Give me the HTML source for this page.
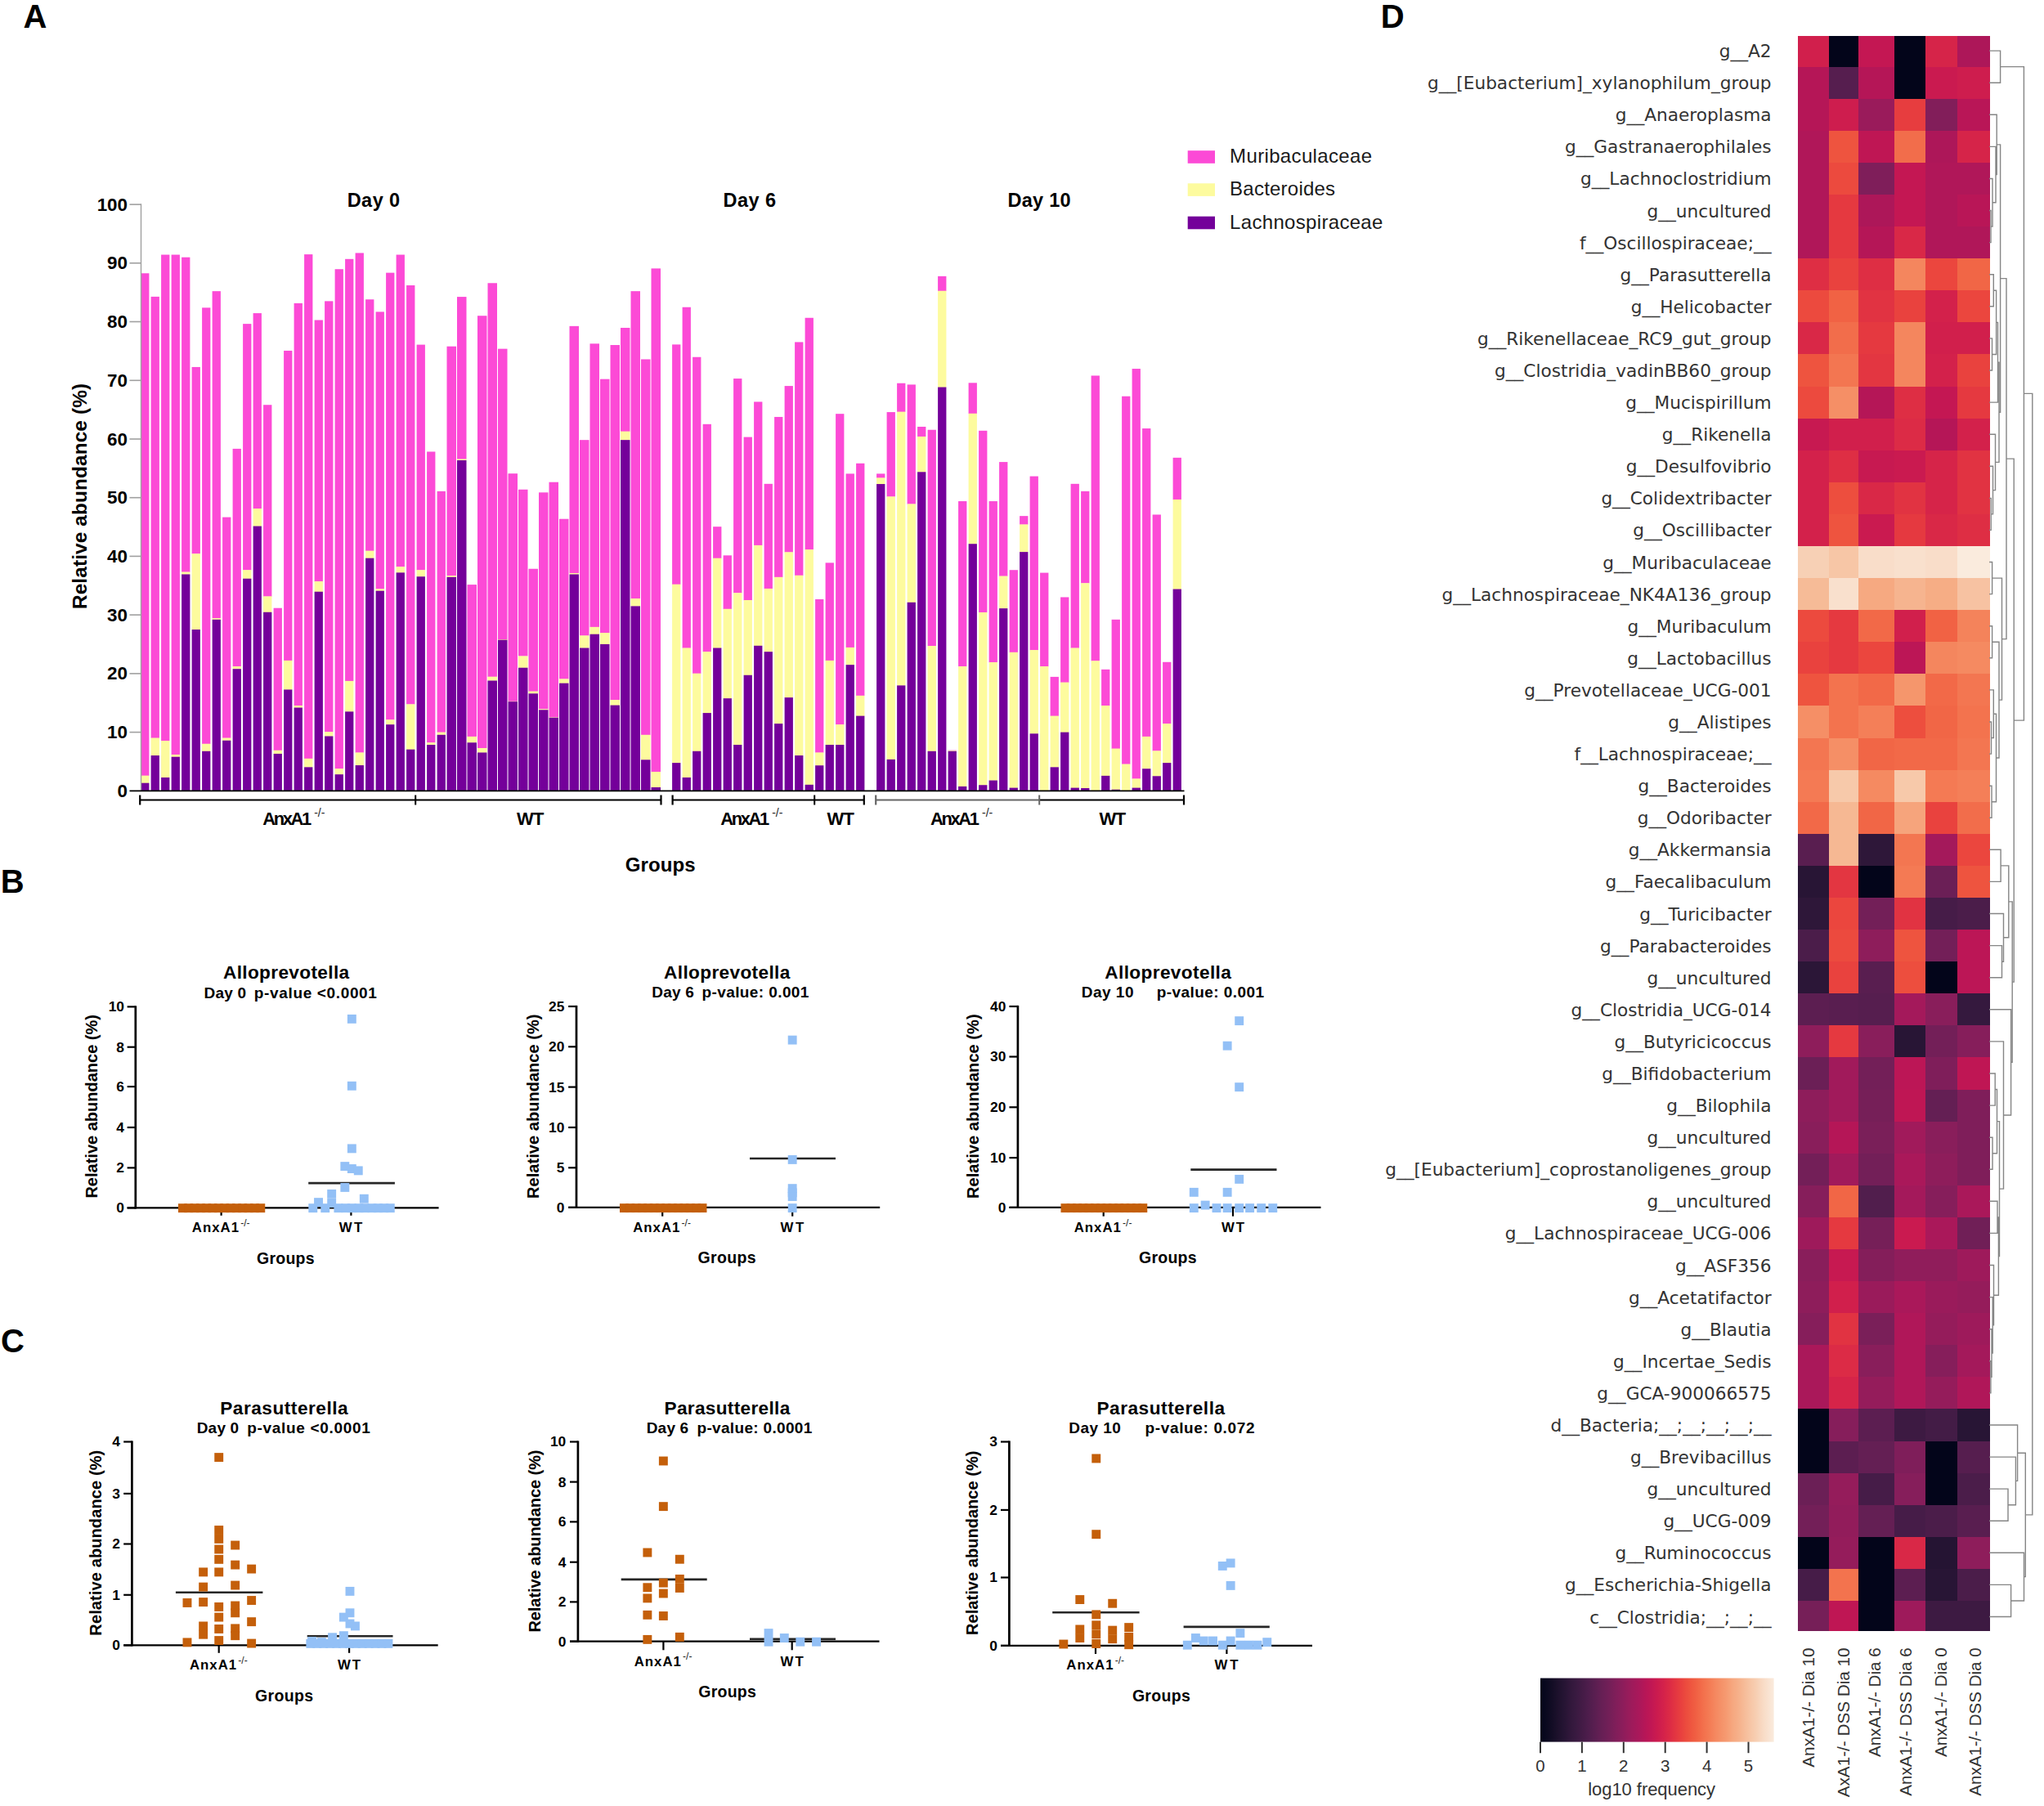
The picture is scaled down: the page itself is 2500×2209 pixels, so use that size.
<!DOCTYPE html>
<html lang="en"><head><meta charset="utf-8"><title>Figure</title>
<style>
html,body{margin:0;padding:0;background:#fff;}
svg{display:block;font-family:'Liberation Sans', Arial, Helvetica, sans-serif;}
</style></head><body>
<svg width="2500" height="2209" viewBox="0 0 2500 2209">
<rect width="2500" height="2209" fill="#fff"/>
<text x="28.4" y="34.2" font-size="40" font-weight="bold">A</text>
<text x="0.8" y="1092.2" font-size="40" font-weight="bold">B</text>
<text x="1.0" y="1654.3" font-size="40" font-weight="bold">C</text>
<text x="1688.8" y="34.1" font-size="40" font-weight="bold">D</text>
<g shape-rendering="auto">
<rect x="172.30" y="334.27" width="10.10" height="614.69" fill="#fc4ad6"/>
<rect x="172.30" y="948.66" width="10.10" height="9.35" fill="#fdfb9e"/>
<rect x="172.30" y="957.71" width="10.10" height="9.59" fill="#74009a"/>
<rect x="184.60" y="362.88" width="10.30" height="539.99" fill="#fc4ad6"/>
<rect x="184.60" y="902.58" width="10.30" height="21.76" fill="#fdfb9e"/>
<rect x="184.60" y="924.04" width="10.30" height="43.26" fill="#74009a"/>
<rect x="197.10" y="311.54" width="10.30" height="594.91" fill="#fc4ad6"/>
<rect x="197.10" y="906.15" width="10.30" height="45.12" fill="#fdfb9e"/>
<rect x="197.10" y="950.97" width="10.30" height="16.33" fill="#74009a"/>
<rect x="209.60" y="311.54" width="10.30" height="611.75" fill="#fc4ad6"/>
<rect x="209.60" y="922.99" width="10.30" height="3.04" fill="#fdfb9e"/>
<rect x="209.60" y="925.72" width="10.30" height="41.58" fill="#74009a"/>
<rect x="222.10" y="314.70" width="10.30" height="385.13" fill="#fc4ad6"/>
<rect x="222.10" y="699.53" width="10.30" height="3.25" fill="#fdfb9e"/>
<rect x="222.10" y="702.47" width="10.30" height="264.83" fill="#74009a"/>
<rect x="234.60" y="448.94" width="10.30" height="228.58" fill="#fc4ad6"/>
<rect x="234.60" y="677.22" width="10.30" height="93.09" fill="#fdfb9e"/>
<rect x="234.60" y="770.02" width="10.30" height="197.28" fill="#74009a"/>
<rect x="247.10" y="376.35" width="10.30" height="533.68" fill="#fc4ad6"/>
<rect x="247.10" y="909.73" width="10.30" height="9.35" fill="#fdfb9e"/>
<rect x="247.10" y="918.78" width="10.30" height="48.52" fill="#74009a"/>
<rect x="259.60" y="356.15" width="10.30" height="400.28" fill="#fc4ad6"/>
<rect x="259.60" y="756.13" width="10.30" height="1.98" fill="#fdfb9e"/>
<rect x="259.60" y="757.81" width="10.30" height="209.49" fill="#74009a"/>
<rect x="272.10" y="632.61" width="10.30" height="270.26" fill="#fc4ad6"/>
<rect x="272.10" y="902.58" width="10.30" height="3.46" fill="#fdfb9e"/>
<rect x="272.10" y="905.73" width="10.30" height="61.57" fill="#74009a"/>
<rect x="284.60" y="548.89" width="10.30" height="266.45" fill="#fc4ad6"/>
<rect x="284.60" y="815.04" width="10.30" height="3.46" fill="#fdfb9e"/>
<rect x="284.60" y="818.20" width="10.30" height="149.10" fill="#74009a"/>
<rect x="297.10" y="396.13" width="10.30" height="301.38" fill="#fc4ad6"/>
<rect x="297.10" y="697.21" width="10.30" height="10.82" fill="#fdfb9e"/>
<rect x="297.10" y="707.73" width="10.30" height="259.57" fill="#74009a"/>
<rect x="309.60" y="383.08" width="10.30" height="239.31" fill="#fc4ad6"/>
<rect x="309.60" y="622.09" width="10.30" height="21.76" fill="#fdfb9e"/>
<rect x="309.60" y="643.56" width="10.30" height="323.74" fill="#74009a"/>
<rect x="322.10" y="495.23" width="10.30" height="234.47" fill="#fc4ad6"/>
<rect x="322.10" y="729.41" width="10.30" height="19.66" fill="#fdfb9e"/>
<rect x="322.10" y="748.76" width="10.30" height="218.54" fill="#74009a"/>
<rect x="334.60" y="743.71" width="10.30" height="174.31" fill="#fc4ad6"/>
<rect x="334.60" y="917.73" width="10.30" height="4.51" fill="#fdfb9e"/>
<rect x="334.60" y="921.94" width="10.30" height="45.36" fill="#74009a"/>
<rect x="347.10" y="428.95" width="10.30" height="379.24" fill="#fc4ad6"/>
<rect x="347.10" y="807.89" width="10.30" height="35.86" fill="#fdfb9e"/>
<rect x="347.10" y="843.45" width="10.30" height="123.85" fill="#74009a"/>
<rect x="359.60" y="370.88" width="10.30" height="492.44" fill="#fc4ad6"/>
<rect x="359.60" y="863.02" width="10.30" height="2.82" fill="#fdfb9e"/>
<rect x="359.60" y="865.54" width="10.30" height="101.76" fill="#74009a"/>
<rect x="372.10" y="311.12" width="10.30" height="617.01" fill="#fc4ad6"/>
<rect x="372.10" y="927.83" width="10.30" height="10.82" fill="#fdfb9e"/>
<rect x="372.10" y="938.35" width="10.30" height="28.95" fill="#74009a"/>
<rect x="384.60" y="391.50" width="10.30" height="319.90" fill="#fc4ad6"/>
<rect x="384.60" y="711.10" width="10.30" height="12.92" fill="#fdfb9e"/>
<rect x="384.60" y="723.72" width="10.30" height="243.58" fill="#74009a"/>
<rect x="397.10" y="368.35" width="10.30" height="527.16" fill="#fc4ad6"/>
<rect x="397.10" y="895.21" width="10.30" height="5.56" fill="#fdfb9e"/>
<rect x="397.10" y="900.47" width="10.30" height="66.83" fill="#74009a"/>
<rect x="409.60" y="329.22" width="10.30" height="611.33" fill="#fc4ad6"/>
<rect x="409.60" y="940.24" width="10.30" height="7.24" fill="#fdfb9e"/>
<rect x="409.60" y="947.19" width="10.30" height="20.11" fill="#74009a"/>
<rect x="422.10" y="316.80" width="10.30" height="516.43" fill="#fc4ad6"/>
<rect x="422.10" y="832.93" width="10.30" height="37.75" fill="#fdfb9e"/>
<rect x="422.10" y="870.38" width="10.30" height="96.92" fill="#74009a"/>
<rect x="434.60" y="309.44" width="10.30" height="611.33" fill="#fc4ad6"/>
<rect x="434.60" y="920.46" width="10.30" height="15.87" fill="#fdfb9e"/>
<rect x="434.60" y="936.03" width="10.30" height="31.27" fill="#74009a"/>
<rect x="447.10" y="366.25" width="10.30" height="307.70" fill="#fc4ad6"/>
<rect x="447.10" y="673.65" width="10.30" height="9.35" fill="#fdfb9e"/>
<rect x="447.10" y="682.69" width="10.30" height="284.61" fill="#74009a"/>
<rect x="459.60" y="381.40" width="10.30" height="339.26" fill="#fc4ad6"/>
<rect x="459.60" y="720.36" width="10.30" height="2.61" fill="#fdfb9e"/>
<rect x="459.60" y="722.67" width="10.30" height="244.63" fill="#74009a"/>
<rect x="472.10" y="333.63" width="10.30" height="546.94" fill="#fc4ad6"/>
<rect x="472.10" y="880.27" width="10.30" height="6.19" fill="#fdfb9e"/>
<rect x="472.10" y="886.17" width="10.30" height="81.13" fill="#74009a"/>
<rect x="484.60" y="311.54" width="10.30" height="381.97" fill="#fc4ad6"/>
<rect x="484.60" y="693.21" width="10.30" height="7.45" fill="#fdfb9e"/>
<rect x="484.60" y="700.37" width="10.30" height="266.93" fill="#74009a"/>
<rect x="497.10" y="349.00" width="10.30" height="512.64" fill="#fc4ad6"/>
<rect x="497.10" y="861.34" width="10.30" height="55.64" fill="#fdfb9e"/>
<rect x="497.10" y="916.68" width="10.30" height="50.62" fill="#74009a"/>
<rect x="509.60" y="421.59" width="10.30" height="275.92" fill="#fc4ad6"/>
<rect x="509.60" y="697.21" width="10.30" height="8.30" fill="#fdfb9e"/>
<rect x="509.60" y="705.21" width="10.30" height="262.09" fill="#74009a"/>
<rect x="522.10" y="552.47" width="10.30" height="356.09" fill="#fc4ad6"/>
<rect x="522.10" y="908.26" width="10.30" height="3.04" fill="#fdfb9e"/>
<rect x="522.10" y="910.99" width="10.30" height="56.31" fill="#74009a"/>
<rect x="534.60" y="600.86" width="10.30" height="295.07" fill="#fc4ad6"/>
<rect x="534.60" y="895.63" width="10.30" height="3.46" fill="#fdfb9e"/>
<rect x="534.60" y="898.79" width="10.30" height="68.51" fill="#74009a"/>
<rect x="546.50" y="423.69" width="11.50" height="280.76" fill="#fc4ad6"/>
<rect x="546.50" y="704.16" width="11.50" height="1.98" fill="#fdfb9e"/>
<rect x="546.50" y="705.84" width="11.50" height="261.46" fill="#74009a"/>
<rect x="559.00" y="363.09" width="11.50" height="198.72" fill="#fc4ad6"/>
<rect x="559.00" y="561.51" width="11.50" height="1.77" fill="#fdfb9e"/>
<rect x="559.00" y="562.99" width="11.50" height="404.31" fill="#74009a"/>
<rect x="571.50" y="715.10" width="11.50" height="186.10" fill="#fc4ad6"/>
<rect x="571.50" y="900.89" width="11.50" height="7.66" fill="#fdfb9e"/>
<rect x="571.50" y="908.26" width="11.50" height="59.04" fill="#74009a"/>
<rect x="584.00" y="386.24" width="11.50" height="529.05" fill="#fc4ad6"/>
<rect x="584.00" y="914.99" width="11.50" height="5.77" fill="#fdfb9e"/>
<rect x="584.00" y="920.46" width="11.50" height="46.84" fill="#74009a"/>
<rect x="596.50" y="346.26" width="11.50" height="481.71" fill="#fc4ad6"/>
<rect x="596.50" y="827.67" width="11.50" height="5.14" fill="#fdfb9e"/>
<rect x="596.50" y="832.51" width="11.50" height="134.79" fill="#74009a"/>
<rect x="609.00" y="426.64" width="11.50" height="355.67" fill="#fc4ad6"/>
<rect x="609.00" y="782.01" width="11.50" height="0.93" fill="#fdfb9e"/>
<rect x="609.00" y="782.64" width="11.50" height="184.66" fill="#74009a"/>
<rect x="621.50" y="579.19" width="11.50" height="278.87" fill="#fc4ad6"/>
<rect x="621.50" y="857.76" width="11.50" height="0.72" fill="#fdfb9e"/>
<rect x="621.50" y="858.18" width="11.50" height="109.12" fill="#74009a"/>
<rect x="634.00" y="598.76" width="11.50" height="203.96" fill="#fc4ad6"/>
<rect x="634.00" y="802.42" width="11.50" height="14.61" fill="#fdfb9e"/>
<rect x="634.00" y="816.73" width="11.50" height="150.57" fill="#74009a"/>
<rect x="646.50" y="695.74" width="11.50" height="150.12" fill="#fc4ad6"/>
<rect x="646.50" y="845.55" width="11.50" height="3.04" fill="#fdfb9e"/>
<rect x="646.50" y="848.29" width="11.50" height="119.01" fill="#74009a"/>
<rect x="659.00" y="602.34" width="11.50" height="265.19" fill="#fc4ad6"/>
<rect x="659.00" y="867.23" width="11.50" height="1.35" fill="#fdfb9e"/>
<rect x="659.00" y="868.28" width="11.50" height="99.02" fill="#74009a"/>
<rect x="671.50" y="589.71" width="11.50" height="287.92" fill="#fc4ad6"/>
<rect x="671.50" y="877.33" width="11.50" height="0.72" fill="#fdfb9e"/>
<rect x="671.50" y="877.75" width="11.50" height="89.55" fill="#74009a"/>
<rect x="684.00" y="634.72" width="11.50" height="195.99" fill="#fc4ad6"/>
<rect x="684.00" y="830.41" width="11.50" height="5.56" fill="#fdfb9e"/>
<rect x="684.00" y="835.67" width="11.50" height="131.63" fill="#74009a"/>
<rect x="696.50" y="398.86" width="11.50" height="302.44" fill="#fc4ad6"/>
<rect x="696.50" y="701.00" width="11.50" height="1.77" fill="#fdfb9e"/>
<rect x="696.50" y="702.47" width="11.50" height="264.83" fill="#74009a"/>
<rect x="709.00" y="538.16" width="11.50" height="239.52" fill="#fc4ad6"/>
<rect x="709.00" y="777.38" width="11.50" height="15.45" fill="#fdfb9e"/>
<rect x="709.00" y="792.53" width="11.50" height="174.77" fill="#74009a"/>
<rect x="721.50" y="420.33" width="11.50" height="346.83" fill="#fc4ad6"/>
<rect x="721.50" y="766.86" width="11.50" height="9.14" fill="#fdfb9e"/>
<rect x="721.50" y="775.70" width="11.50" height="191.60" fill="#74009a"/>
<rect x="734.00" y="463.67" width="11.50" height="310.64" fill="#fc4ad6"/>
<rect x="734.00" y="774.01" width="11.50" height="14.19" fill="#fdfb9e"/>
<rect x="734.00" y="787.90" width="11.50" height="179.40" fill="#74009a"/>
<rect x="746.50" y="422.01" width="11.50" height="434.37" fill="#fc4ad6"/>
<rect x="746.50" y="856.08" width="11.50" height="6.82" fill="#fdfb9e"/>
<rect x="746.50" y="862.60" width="11.50" height="104.70" fill="#74009a"/>
<rect x="759.00" y="400.97" width="11.50" height="126.97" fill="#fc4ad6"/>
<rect x="759.00" y="527.64" width="11.50" height="10.82" fill="#fdfb9e"/>
<rect x="759.00" y="538.16" width="11.50" height="429.14" fill="#74009a"/>
<rect x="771.50" y="356.15" width="11.50" height="376.29" fill="#fc4ad6"/>
<rect x="771.50" y="732.14" width="11.50" height="9.56" fill="#fdfb9e"/>
<rect x="771.50" y="741.40" width="11.50" height="225.90" fill="#74009a"/>
<rect x="784.00" y="439.47" width="11.50" height="459.62" fill="#fc4ad6"/>
<rect x="784.00" y="898.79" width="11.50" height="30.81" fill="#fdfb9e"/>
<rect x="784.00" y="929.30" width="11.50" height="38.00" fill="#74009a"/>
<rect x="796.50" y="328.37" width="11.50" height="615.95" fill="#fc4ad6"/>
<rect x="796.50" y="944.03" width="11.50" height="19.24" fill="#fdfb9e"/>
<rect x="796.50" y="962.97" width="11.50" height="4.33" fill="#74009a"/>
<rect x="822.10" y="421.38" width="10.30" height="293.60" fill="#fc4ad6"/>
<rect x="822.10" y="714.68" width="10.30" height="218.71" fill="#fdfb9e"/>
<rect x="822.10" y="933.09" width="10.30" height="34.21" fill="#74009a"/>
<rect x="834.60" y="375.72" width="10.30" height="417.11" fill="#fc4ad6"/>
<rect x="834.60" y="792.53" width="10.30" height="158.74" fill="#fdfb9e"/>
<rect x="834.60" y="950.97" width="10.30" height="16.33" fill="#74009a"/>
<rect x="847.10" y="436.74" width="10.30" height="387.23" fill="#fc4ad6"/>
<rect x="847.10" y="823.67" width="10.30" height="95.41" fill="#fdfb9e"/>
<rect x="847.10" y="918.78" width="10.30" height="48.52" fill="#74009a"/>
<rect x="859.60" y="518.80" width="10.30" height="278.66" fill="#fc4ad6"/>
<rect x="859.60" y="797.16" width="10.30" height="75.21" fill="#fdfb9e"/>
<rect x="859.60" y="872.07" width="10.30" height="95.23" fill="#74009a"/>
<rect x="872.10" y="644.19" width="10.30" height="38.81" fill="#fc4ad6"/>
<rect x="872.10" y="682.69" width="10.30" height="110.14" fill="#fdfb9e"/>
<rect x="872.10" y="792.53" width="10.30" height="174.77" fill="#74009a"/>
<rect x="884.60" y="679.33" width="10.30" height="65.74" fill="#fc4ad6"/>
<rect x="884.60" y="744.77" width="10.30" height="109.72" fill="#fdfb9e"/>
<rect x="884.60" y="854.18" width="10.30" height="113.12" fill="#74009a"/>
<rect x="897.10" y="463.04" width="10.30" height="262.46" fill="#fc4ad6"/>
<rect x="897.10" y="725.20" width="10.30" height="186.10" fill="#fdfb9e"/>
<rect x="897.10" y="910.99" width="10.30" height="56.31" fill="#74009a"/>
<rect x="909.60" y="534.58" width="10.30" height="199.75" fill="#fc4ad6"/>
<rect x="909.60" y="734.03" width="10.30" height="92.04" fill="#fdfb9e"/>
<rect x="909.60" y="825.78" width="10.30" height="141.52" fill="#74009a"/>
<rect x="922.10" y="491.45" width="10.30" height="175.77" fill="#fc4ad6"/>
<rect x="922.10" y="666.91" width="10.30" height="123.18" fill="#fdfb9e"/>
<rect x="922.10" y="789.79" width="10.30" height="177.51" fill="#74009a"/>
<rect x="934.60" y="591.81" width="10.30" height="128.42" fill="#fc4ad6"/>
<rect x="934.60" y="719.94" width="10.30" height="77.52" fill="#fdfb9e"/>
<rect x="934.60" y="797.16" width="10.30" height="170.14" fill="#74009a"/>
<rect x="947.10" y="509.96" width="10.30" height="196.18" fill="#fc4ad6"/>
<rect x="947.10" y="705.84" width="10.30" height="179.57" fill="#fdfb9e"/>
<rect x="947.10" y="885.11" width="10.30" height="82.19" fill="#74009a"/>
<rect x="959.60" y="472.09" width="10.30" height="203.54" fill="#fc4ad6"/>
<rect x="959.60" y="675.33" width="10.30" height="178.10" fill="#fdfb9e"/>
<rect x="959.60" y="853.13" width="10.30" height="114.17" fill="#74009a"/>
<rect x="972.10" y="418.43" width="10.30" height="285.60" fill="#fc4ad6"/>
<rect x="972.10" y="703.73" width="10.30" height="220.61" fill="#fdfb9e"/>
<rect x="972.10" y="924.04" width="10.30" height="43.26" fill="#74009a"/>
<rect x="984.60" y="388.76" width="10.30" height="283.71" fill="#fc4ad6"/>
<rect x="984.60" y="672.17" width="10.30" height="287.94" fill="#fdfb9e"/>
<rect x="984.60" y="959.81" width="10.30" height="7.49" fill="#74009a"/>
<rect x="997.10" y="732.98" width="10.30" height="187.78" fill="#fc4ad6"/>
<rect x="997.10" y="920.46" width="10.30" height="16.08" fill="#fdfb9e"/>
<rect x="997.10" y="936.24" width="10.30" height="31.06" fill="#74009a"/>
<rect x="1009.60" y="688.37" width="10.30" height="119.82" fill="#fc4ad6"/>
<rect x="1009.60" y="807.89" width="10.30" height="103.40" fill="#fdfb9e"/>
<rect x="1009.60" y="910.99" width="10.30" height="56.31" fill="#74009a"/>
<rect x="1022.10" y="506.18" width="10.30" height="380.29" fill="#fc4ad6"/>
<rect x="1022.10" y="886.17" width="10.30" height="25.13" fill="#fdfb9e"/>
<rect x="1022.10" y="910.99" width="10.30" height="56.31" fill="#74009a"/>
<rect x="1034.60" y="579.40" width="10.30" height="212.80" fill="#fc4ad6"/>
<rect x="1034.60" y="791.90" width="10.30" height="21.55" fill="#fdfb9e"/>
<rect x="1034.60" y="813.15" width="10.30" height="154.15" fill="#74009a"/>
<rect x="1047.10" y="566.78" width="10.30" height="284.34" fill="#fc4ad6"/>
<rect x="1047.10" y="850.82" width="10.30" height="25.13" fill="#fdfb9e"/>
<rect x="1047.10" y="875.64" width="10.30" height="91.66" fill="#74009a"/>
<rect x="1072.10" y="579.40" width="10.30" height="5.35" fill="#fc4ad6"/>
<rect x="1072.10" y="584.45" width="10.30" height="7.87" fill="#fdfb9e"/>
<rect x="1072.10" y="592.03" width="10.30" height="375.27" fill="#74009a"/>
<rect x="1084.60" y="504.07" width="10.30" height="103.59" fill="#fc4ad6"/>
<rect x="1084.60" y="607.36" width="10.30" height="321.81" fill="#fdfb9e"/>
<rect x="1084.60" y="928.88" width="10.30" height="38.42" fill="#74009a"/>
<rect x="1097.10" y="468.72" width="10.30" height="35.23" fill="#fc4ad6"/>
<rect x="1097.10" y="503.65" width="10.30" height="335.05" fill="#fdfb9e"/>
<rect x="1097.10" y="838.40" width="10.30" height="128.90" fill="#74009a"/>
<rect x="1109.60" y="470.41" width="10.30" height="146.31" fill="#fc4ad6"/>
<rect x="1109.60" y="616.41" width="10.30" height="120.66" fill="#fdfb9e"/>
<rect x="1109.60" y="736.77" width="10.30" height="230.53" fill="#74009a"/>
<rect x="1122.10" y="521.96" width="10.30" height="12.29" fill="#fc4ad6"/>
<rect x="1122.10" y="533.95" width="10.30" height="43.65" fill="#fdfb9e"/>
<rect x="1122.10" y="577.30" width="10.30" height="390.00" fill="#74009a"/>
<rect x="1134.60" y="525.74" width="10.30" height="264.56" fill="#fc4ad6"/>
<rect x="1134.60" y="790.01" width="10.30" height="129.07" fill="#fdfb9e"/>
<rect x="1134.60" y="918.78" width="10.30" height="48.52" fill="#74009a"/>
<rect x="1147.10" y="337.84" width="10.30" height="18.19" fill="#fc4ad6"/>
<rect x="1147.10" y="355.73" width="10.30" height="118.13" fill="#fdfb9e"/>
<rect x="1147.10" y="473.56" width="10.30" height="493.74" fill="#74009a"/>
<rect x="1159.60" y="917.73" width="10.30" height="0.72" fill="#fc4ad6"/>
<rect x="1159.60" y="918.15" width="10.30" height="0.93" fill="#fdfb9e"/>
<rect x="1159.60" y="918.78" width="10.30" height="48.52" fill="#74009a"/>
<rect x="1172.10" y="613.05" width="10.30" height="202.30" fill="#fc4ad6"/>
<rect x="1172.10" y="815.04" width="10.30" height="147.17" fill="#fdfb9e"/>
<rect x="1172.10" y="961.91" width="10.30" height="5.39" fill="#74009a"/>
<rect x="1184.60" y="468.30" width="10.30" height="37.75" fill="#fc4ad6"/>
<rect x="1184.60" y="505.75" width="10.30" height="159.77" fill="#fdfb9e"/>
<rect x="1184.60" y="665.23" width="10.30" height="302.07" fill="#74009a"/>
<rect x="1197.10" y="526.80" width="10.30" height="222.48" fill="#fc4ad6"/>
<rect x="1197.10" y="748.97" width="10.30" height="211.56" fill="#fdfb9e"/>
<rect x="1197.10" y="960.23" width="10.30" height="7.07" fill="#74009a"/>
<rect x="1209.60" y="613.05" width="10.30" height="197.25" fill="#fc4ad6"/>
<rect x="1209.60" y="809.99" width="10.30" height="144.86" fill="#fdfb9e"/>
<rect x="1209.60" y="954.55" width="10.30" height="12.75" fill="#74009a"/>
<rect x="1222.10" y="565.09" width="10.30" height="139.78" fill="#fc4ad6"/>
<rect x="1222.10" y="704.58" width="10.30" height="39.86" fill="#fdfb9e"/>
<rect x="1222.10" y="744.13" width="10.30" height="223.17" fill="#74009a"/>
<rect x="1234.60" y="697.21" width="10.30" height="100.88" fill="#fc4ad6"/>
<rect x="1234.60" y="797.79" width="10.30" height="166.11" fill="#fdfb9e"/>
<rect x="1234.60" y="963.60" width="10.30" height="3.70" fill="#74009a"/>
<rect x="1247.10" y="631.14" width="10.30" height="10.61" fill="#fc4ad6"/>
<rect x="1247.10" y="641.45" width="10.30" height="33.97" fill="#fdfb9e"/>
<rect x="1247.10" y="675.12" width="10.30" height="292.18" fill="#74009a"/>
<rect x="1259.60" y="582.56" width="10.30" height="212.80" fill="#fc4ad6"/>
<rect x="1259.60" y="795.06" width="10.30" height="102.56" fill="#fdfb9e"/>
<rect x="1259.60" y="897.32" width="10.30" height="69.98" fill="#74009a"/>
<rect x="1272.10" y="700.58" width="10.30" height="114.77" fill="#fc4ad6"/>
<rect x="1272.10" y="815.04" width="10.30" height="152.43" fill="#fdfb9e"/>
<rect x="1284.60" y="827.88" width="10.30" height="48.06" fill="#fc4ad6"/>
<rect x="1284.60" y="875.64" width="10.30" height="63.00" fill="#fdfb9e"/>
<rect x="1284.60" y="938.35" width="10.30" height="28.95" fill="#74009a"/>
<rect x="1297.10" y="730.46" width="10.30" height="104.46" fill="#fc4ad6"/>
<rect x="1297.10" y="834.61" width="10.30" height="61.32" fill="#fdfb9e"/>
<rect x="1297.10" y="895.63" width="10.30" height="71.67" fill="#74009a"/>
<rect x="1309.60" y="591.81" width="10.30" height="201.02" fill="#fc4ad6"/>
<rect x="1309.60" y="792.53" width="10.30" height="171.37" fill="#fdfb9e"/>
<rect x="1309.60" y="963.60" width="10.30" height="3.70" fill="#74009a"/>
<rect x="1322.10" y="600.86" width="10.30" height="112.64" fill="#fc4ad6"/>
<rect x="1322.10" y="713.20" width="10.30" height="251.12" fill="#fdfb9e"/>
<rect x="1322.10" y="964.02" width="10.30" height="3.28" fill="#74009a"/>
<rect x="1334.60" y="459.46" width="10.30" height="349.15" fill="#fc4ad6"/>
<rect x="1334.60" y="808.31" width="10.30" height="159.16" fill="#fdfb9e"/>
<rect x="1347.10" y="818.83" width="10.30" height="44.49" fill="#fc4ad6"/>
<rect x="1347.10" y="863.02" width="10.30" height="86.15" fill="#fdfb9e"/>
<rect x="1347.10" y="948.87" width="10.30" height="18.43" fill="#74009a"/>
<rect x="1359.60" y="757.81" width="10.30" height="158.11" fill="#fc4ad6"/>
<rect x="1359.60" y="915.62" width="10.30" height="50.38" fill="#fdfb9e"/>
<rect x="1359.60" y="965.70" width="10.30" height="1.60" fill="#74009a"/>
<rect x="1372.10" y="484.71" width="10.30" height="450.15" fill="#fc4ad6"/>
<rect x="1372.10" y="934.56" width="10.30" height="32.91" fill="#fdfb9e"/>
<rect x="1384.60" y="451.05" width="10.30" height="501.70" fill="#fc4ad6"/>
<rect x="1384.60" y="952.45" width="10.30" height="11.45" fill="#fdfb9e"/>
<rect x="1384.60" y="963.60" width="10.30" height="3.70" fill="#74009a"/>
<rect x="1397.10" y="524.06" width="10.30" height="377.13" fill="#fc4ad6"/>
<rect x="1397.10" y="900.89" width="10.30" height="39.65" fill="#fdfb9e"/>
<rect x="1397.10" y="940.24" width="10.30" height="27.06" fill="#74009a"/>
<rect x="1409.60" y="629.46" width="10.30" height="289.20" fill="#fc4ad6"/>
<rect x="1409.60" y="918.36" width="10.30" height="31.23" fill="#fdfb9e"/>
<rect x="1409.60" y="949.29" width="10.30" height="18.01" fill="#74009a"/>
<rect x="1422.10" y="809.78" width="10.30" height="75.63" fill="#fc4ad6"/>
<rect x="1422.10" y="885.11" width="10.30" height="48.27" fill="#fdfb9e"/>
<rect x="1422.10" y="933.09" width="10.30" height="34.21" fill="#74009a"/>
<rect x="1434.60" y="559.83" width="10.30" height="51.41" fill="#fc4ad6"/>
<rect x="1434.60" y="610.94" width="10.30" height="109.93" fill="#fdfb9e"/>
<rect x="1434.60" y="720.57" width="10.30" height="246.73" fill="#74009a"/>
</g>
<line x1="172.5" y1="249.5" x2="172.5" y2="967.3" stroke="#a0a0a0" stroke-width="1.4"/>
<text x="156.0" y="974.8" font-size="22.4" font-weight="bold" text-anchor="end">0</text>
<line x1="158.5" y1="895.6" x2="173.0" y2="895.6" stroke="#a0a0a0" stroke-width="1.6"/>
<text x="156.0" y="903.1" font-size="22.4" font-weight="bold" text-anchor="end">10</text>
<line x1="158.5" y1="823.9" x2="173.0" y2="823.9" stroke="#a0a0a0" stroke-width="1.6"/>
<text x="156.0" y="831.4" font-size="22.4" font-weight="bold" text-anchor="end">20</text>
<line x1="158.5" y1="752.1" x2="173.0" y2="752.1" stroke="#a0a0a0" stroke-width="1.6"/>
<text x="156.0" y="759.6" font-size="22.4" font-weight="bold" text-anchor="end">30</text>
<line x1="158.5" y1="680.4" x2="173.0" y2="680.4" stroke="#a0a0a0" stroke-width="1.6"/>
<text x="156.0" y="687.9" font-size="22.4" font-weight="bold" text-anchor="end">40</text>
<line x1="158.5" y1="608.7" x2="173.0" y2="608.7" stroke="#a0a0a0" stroke-width="1.6"/>
<text x="156.0" y="616.2" font-size="22.4" font-weight="bold" text-anchor="end">50</text>
<line x1="158.5" y1="537.0" x2="173.0" y2="537.0" stroke="#a0a0a0" stroke-width="1.6"/>
<text x="156.0" y="544.5" font-size="22.4" font-weight="bold" text-anchor="end">60</text>
<line x1="158.5" y1="465.3" x2="173.0" y2="465.3" stroke="#a0a0a0" stroke-width="1.6"/>
<text x="156.0" y="472.8" font-size="22.4" font-weight="bold" text-anchor="end">70</text>
<line x1="158.5" y1="393.5" x2="173.0" y2="393.5" stroke="#a0a0a0" stroke-width="1.6"/>
<text x="156.0" y="401.0" font-size="22.4" font-weight="bold" text-anchor="end">80</text>
<line x1="158.5" y1="321.8" x2="173.0" y2="321.8" stroke="#a0a0a0" stroke-width="1.6"/>
<text x="156.0" y="329.3" font-size="22.4" font-weight="bold" text-anchor="end">90</text>
<line x1="158.5" y1="250.1" x2="173.0" y2="250.1" stroke="#a0a0a0" stroke-width="1.6"/>
<text x="156.0" y="257.6" font-size="22.4" font-weight="bold" text-anchor="end">100</text>
<line x1="158.5" y1="967.4" x2="1448.5" y2="967.4" stroke="#000" stroke-width="1.7"/>
<line x1="171.2" y1="978.4" x2="508.2" y2="978.4" stroke="#000" stroke-width="2"/>
<line x1="508.2" y1="978.4" x2="808.5" y2="978.4" stroke="#000" stroke-width="2"/>
<line x1="171.2" y1="972.5" x2="171.2" y2="984.5" stroke="#000" stroke-width="2.2"/>
<line x1="508.2" y1="972.5" x2="508.2" y2="984.5" stroke="#000" stroke-width="2"/>
<line x1="808.5" y1="972.5" x2="808.5" y2="984.5" stroke="#000" stroke-width="2.2"/>
<line x1="822.6" y1="978.4" x2="996.2" y2="978.4" stroke="#000" stroke-width="2"/>
<line x1="996.2" y1="978.4" x2="1056.8" y2="978.4" stroke="#000" stroke-width="2"/>
<line x1="822.6" y1="972.5" x2="822.6" y2="984.5" stroke="#000" stroke-width="2.2"/>
<line x1="996.2" y1="972.5" x2="996.2" y2="984.5" stroke="#000" stroke-width="2"/>
<line x1="1056.8" y1="972.5" x2="1056.8" y2="984.5" stroke="#000" stroke-width="2.2"/>
<line x1="1071.2" y1="978.4" x2="1271.2" y2="978.4" stroke="#666" stroke-width="2"/>
<line x1="1271.2" y1="978.4" x2="1448.0" y2="978.4" stroke="#000" stroke-width="2"/>
<line x1="1071.2" y1="972.5" x2="1071.2" y2="984.5" stroke="#666" stroke-width="2.2"/>
<line x1="1271.2" y1="972.5" x2="1271.2" y2="984.5" stroke="#666" stroke-width="2"/>
<line x1="1448.0" y1="972.5" x2="1448.0" y2="984.5" stroke="#000" stroke-width="2.2"/>
<text x="321.2" y="1008.5" font-size="21.9" font-weight="bold" textLength="60.0" lengthAdjust="spacing">AnxA1</text>
<text x="384.2" y="998.7" font-size="14" fill="#222">-/-</text>
<text x="632.0" y="1008.5" font-size="21.9" font-weight="bold" textLength="33.4" lengthAdjust="spacing">WT</text>
<text x="881.2" y="1008.5" font-size="21.9" font-weight="bold" textLength="60.0" lengthAdjust="spacing">AnxA1</text>
<text x="944.2" y="998.7" font-size="14" fill="#222">-/-</text>
<text x="1011.6" y="1008.5" font-size="21.9" font-weight="bold" textLength="33.3" lengthAdjust="spacing">WT</text>
<text x="1138.0" y="1008.5" font-size="21.9" font-weight="bold" textLength="60.0" lengthAdjust="spacing">AnxA1</text>
<text x="1201.0" y="998.7" font-size="14" fill="#222">-/-</text>
<text x="1344.5" y="1008.5" font-size="21.9" font-weight="bold" textLength="32.5" lengthAdjust="spacing">WT</text>
<text x="764.7" y="1065.7" font-size="24" font-weight="bold" textLength="86.0" lengthAdjust="spacing">Groups</text>
<text x="424.7" y="253.0" font-size="23.5" font-weight="bold" textLength="64.5" lengthAdjust="spacing">Day 0</text>
<text x="884.5" y="253.0" font-size="23.5" font-weight="bold" textLength="64.6" lengthAdjust="spacing">Day 6</text>
<text x="1232.5" y="252.7" font-size="23.5" font-weight="bold" textLength="77.1" lengthAdjust="spacing">Day 10</text>
<text x="105.5" y="607.0" font-size="24.3" font-weight="bold" text-anchor="middle" textLength="276.0" lengthAdjust="spacing" transform="rotate(-90 105.5 607.0)">Relative abundance (%)</text>
<rect x="1452.70" y="184.20" width="33.30" height="15.60" fill="#fc4ad6"/>
<text x="1504.1" y="199.3" font-size="24" textLength="174.0" lengthAdjust="spacing" fill="#1a1a1a">Muribaculaceae</text>
<rect x="1452.70" y="224.30" width="33.30" height="15.60" fill="#fdfb9e"/>
<text x="1504.1" y="239.3" font-size="24" textLength="129.0" lengthAdjust="spacing" fill="#1a1a1a">Bacteroides</text>
<rect x="1452.70" y="264.70" width="33.30" height="15.60" fill="#74009a"/>
<text x="1504.1" y="279.8" font-size="24" textLength="187.3" lengthAdjust="spacing" fill="#1a1a1a">Lachnospiraceae</text>
<line x1="165.8" y1="1230.3" x2="165.8" y2="1478.5" stroke="#000" stroke-width="2.7"/>
<line x1="155.6" y1="1477.4" x2="536.6" y2="1477.4" stroke="#000" stroke-width="2.2"/>
<line x1="155.6" y1="1231.4" x2="165.8" y2="1231.4" stroke="#000" stroke-width="2.2"/>
<text x="152.0" y="1237.3" font-size="17.4" font-weight="bold" text-anchor="end">10</text>
<line x1="155.6" y1="1280.7" x2="165.8" y2="1280.7" stroke="#000" stroke-width="2.2"/>
<text x="152.0" y="1286.6" font-size="17.4" font-weight="bold" text-anchor="end">8</text>
<line x1="155.6" y1="1329.1" x2="165.8" y2="1329.1" stroke="#000" stroke-width="2.2"/>
<text x="152.0" y="1335.0" font-size="17.4" font-weight="bold" text-anchor="end">6</text>
<line x1="155.6" y1="1379.0" x2="165.8" y2="1379.0" stroke="#000" stroke-width="2.2"/>
<text x="152.0" y="1384.9" font-size="17.4" font-weight="bold" text-anchor="end">4</text>
<line x1="155.6" y1="1428.4" x2="165.8" y2="1428.4" stroke="#000" stroke-width="2.2"/>
<text x="152.0" y="1434.3" font-size="17.4" font-weight="bold" text-anchor="end">2</text>
<line x1="155.6" y1="1477.4" x2="165.8" y2="1477.4" stroke="#000" stroke-width="2.2"/>
<text x="152.0" y="1483.3" font-size="17.4" font-weight="bold" text-anchor="end">0</text>
<line x1="270.6" y1="1477.4" x2="270.6" y2="1486.8" stroke="#000" stroke-width="2.2"/>
<line x1="429.4" y1="1477.4" x2="429.4" y2="1486.8" stroke="#000" stroke-width="2.2"/>
<line x1="377.2" y1="1447.1" x2="482.9" y2="1447.1" stroke="#262626" stroke-width="2.6"/>
<rect x="217.93" y="1472.22" width="10.90" height="10.90" fill="#c45f0a"/>
<rect x="225.27" y="1472.22" width="10.90" height="10.90" fill="#c45f0a"/>
<rect x="232.61" y="1472.22" width="10.90" height="10.90" fill="#c45f0a"/>
<rect x="239.95" y="1472.22" width="10.90" height="10.90" fill="#c45f0a"/>
<rect x="247.29" y="1472.22" width="10.90" height="10.90" fill="#c45f0a"/>
<rect x="254.63" y="1472.22" width="10.90" height="10.90" fill="#c45f0a"/>
<rect x="261.96" y="1472.22" width="10.90" height="10.90" fill="#c45f0a"/>
<rect x="269.30" y="1472.22" width="10.90" height="10.90" fill="#c45f0a"/>
<rect x="276.64" y="1472.22" width="10.90" height="10.90" fill="#c45f0a"/>
<rect x="283.98" y="1472.22" width="10.90" height="10.90" fill="#c45f0a"/>
<rect x="291.32" y="1472.22" width="10.90" height="10.90" fill="#c45f0a"/>
<rect x="298.66" y="1472.22" width="10.90" height="10.90" fill="#c45f0a"/>
<rect x="306.00" y="1472.22" width="10.90" height="10.90" fill="#c45f0a"/>
<rect x="313.33" y="1472.22" width="10.90" height="10.90" fill="#c45f0a"/>
<rect x="424.88" y="1240.91" width="10.90" height="10.90" fill="#93c0f6"/>
<rect x="424.88" y="1322.81" width="10.90" height="10.90" fill="#93c0f6"/>
<rect x="424.88" y="1399.42" width="10.90" height="10.90" fill="#93c0f6"/>
<rect x="416.37" y="1421.14" width="10.90" height="10.90" fill="#93c0f6"/>
<rect x="424.88" y="1424.08" width="10.90" height="10.90" fill="#93c0f6"/>
<rect x="432.80" y="1426.42" width="10.90" height="10.90" fill="#93c0f6"/>
<rect x="416.37" y="1446.97" width="10.90" height="10.90" fill="#93c0f6"/>
<rect x="400.22" y="1454.90" width="10.90" height="10.90" fill="#93c0f6"/>
<rect x="439.85" y="1460.77" width="10.90" height="10.90" fill="#93c0f6"/>
<rect x="384.08" y="1465.17" width="10.90" height="10.90" fill="#93c0f6"/>
<rect x="400.22" y="1466.05" width="10.90" height="10.90" fill="#93c0f6"/>
<rect x="377.33" y="1472.22" width="10.90" height="10.90" fill="#93c0f6"/>
<rect x="392.30" y="1472.22" width="10.90" height="10.90" fill="#93c0f6"/>
<rect x="408.44" y="1472.22" width="10.90" height="10.90" fill="#93c0f6"/>
<rect x="417.25" y="1472.22" width="10.90" height="10.90" fill="#93c0f6"/>
<rect x="424.88" y="1472.22" width="10.90" height="10.90" fill="#93c0f6"/>
<rect x="433.39" y="1472.22" width="10.90" height="10.90" fill="#93c0f6"/>
<rect x="440.73" y="1472.22" width="10.90" height="10.90" fill="#93c0f6"/>
<rect x="449.54" y="1472.22" width="10.90" height="10.90" fill="#93c0f6"/>
<rect x="456.87" y="1472.22" width="10.90" height="10.90" fill="#93c0f6"/>
<rect x="464.21" y="1472.22" width="10.90" height="10.90" fill="#93c0f6"/>
<rect x="471.84" y="1472.22" width="10.90" height="10.90" fill="#93c0f6"/>
<text x="273.0" y="1197.0" font-size="22.6" font-weight="bold" textLength="154.1" lengthAdjust="spacing">Alloprevotella</text>
<text x="249.5" y="1220.5" font-size="19" font-weight="bold" textLength="51.5" lengthAdjust="spacing">Day 0</text>
<text x="310.8" y="1220.5" font-size="19" font-weight="bold" textLength="150.1" lengthAdjust="spacing">p-value &lt;0.0001</text>
<text x="234.8" y="1506.7" font-size="16.8" font-weight="bold" textLength="57.2" lengthAdjust="spacing">AnxA1</text>
<text x="294.2" y="1499.5" font-size="12" fill="#222">-/-</text>
<text x="414.8" y="1506.7" font-size="16.8" font-weight="bold" textLength="28.4" lengthAdjust="spacing">WT</text>
<text x="314.1" y="1545.5" font-size="19.5" font-weight="bold" textLength="70.4" lengthAdjust="spacing">Groups</text>
<text x="119.5" y="1353.3" font-size="20" font-weight="bold" text-anchor="middle" textLength="224.6" lengthAdjust="spacing" transform="rotate(-90 119.5 1353.3)">Relative abundance (%)</text>
<line x1="705.0" y1="1229.9" x2="705.0" y2="1478.0" stroke="#000" stroke-width="2.7"/>
<line x1="695.1" y1="1476.9" x2="1076.2" y2="1476.9" stroke="#000" stroke-width="2.2"/>
<line x1="695.1" y1="1231.0" x2="705.0" y2="1231.0" stroke="#000" stroke-width="2.2"/>
<text x="690.4" y="1236.9" font-size="17.4" font-weight="bold" text-anchor="end">25</text>
<line x1="695.1" y1="1280.3" x2="705.0" y2="1280.3" stroke="#000" stroke-width="2.2"/>
<text x="690.4" y="1286.2" font-size="17.4" font-weight="bold" text-anchor="end">20</text>
<line x1="695.1" y1="1329.6" x2="705.0" y2="1329.6" stroke="#000" stroke-width="2.2"/>
<text x="690.4" y="1335.5" font-size="17.4" font-weight="bold" text-anchor="end">15</text>
<line x1="695.1" y1="1379.0" x2="705.0" y2="1379.0" stroke="#000" stroke-width="2.2"/>
<text x="690.4" y="1384.9" font-size="17.4" font-weight="bold" text-anchor="end">10</text>
<line x1="695.1" y1="1428.3" x2="705.0" y2="1428.3" stroke="#000" stroke-width="2.2"/>
<text x="690.4" y="1434.2" font-size="17.4" font-weight="bold" text-anchor="end">5</text>
<line x1="695.1" y1="1476.9" x2="705.0" y2="1476.9" stroke="#000" stroke-width="2.2"/>
<text x="690.4" y="1482.8" font-size="17.4" font-weight="bold" text-anchor="end">0</text>
<line x1="810.2" y1="1476.9" x2="810.2" y2="1487.7" stroke="#000" stroke-width="2.2"/>
<line x1="969.2" y1="1476.9" x2="969.2" y2="1487.7" stroke="#000" stroke-width="2.2"/>
<line x1="917.0" y1="1417.0" x2="1022.0" y2="1417.0" stroke="#262626" stroke-width="2.6"/>
<rect x="758.00" y="1472.15" width="10.90" height="10.90" fill="#c45f0a"/>
<rect x="765.35" y="1472.15" width="10.90" height="10.90" fill="#c45f0a"/>
<rect x="772.70" y="1472.15" width="10.90" height="10.90" fill="#c45f0a"/>
<rect x="780.05" y="1472.15" width="10.90" height="10.90" fill="#c45f0a"/>
<rect x="787.40" y="1472.15" width="10.90" height="10.90" fill="#c45f0a"/>
<rect x="794.76" y="1472.15" width="10.90" height="10.90" fill="#c45f0a"/>
<rect x="802.11" y="1472.15" width="10.90" height="10.90" fill="#c45f0a"/>
<rect x="809.46" y="1472.15" width="10.90" height="10.90" fill="#c45f0a"/>
<rect x="816.81" y="1472.15" width="10.90" height="10.90" fill="#c45f0a"/>
<rect x="824.16" y="1472.15" width="10.90" height="10.90" fill="#c45f0a"/>
<rect x="831.52" y="1472.15" width="10.90" height="10.90" fill="#c45f0a"/>
<rect x="838.87" y="1472.15" width="10.90" height="10.90" fill="#c45f0a"/>
<rect x="846.22" y="1472.15" width="10.90" height="10.90" fill="#c45f0a"/>
<rect x="853.57" y="1472.15" width="10.90" height="10.90" fill="#c45f0a"/>
<rect x="963.71" y="1266.66" width="10.90" height="10.90" fill="#93c0f6"/>
<rect x="963.71" y="1412.97" width="10.90" height="10.90" fill="#93c0f6"/>
<rect x="963.71" y="1448.19" width="10.90" height="10.90" fill="#93c0f6"/>
<rect x="963.71" y="1453.36" width="10.90" height="10.90" fill="#93c0f6"/>
<rect x="963.71" y="1458.06" width="10.90" height="10.90" fill="#93c0f6"/>
<rect x="963.71" y="1472.15" width="10.90" height="10.90" fill="#93c0f6"/>
<text x="812.1" y="1196.5" font-size="22.6" font-weight="bold" textLength="154.2" lengthAdjust="spacing">Alloprevotella</text>
<text x="797.3" y="1220.0" font-size="19" font-weight="bold" textLength="51.5" lengthAdjust="spacing">Day 6</text>
<text x="858.5" y="1220.0" font-size="19" font-weight="bold" textLength="130.9" lengthAdjust="spacing">p-value: 0.001</text>
<text x="774.2" y="1507.0" font-size="16.8" font-weight="bold" textLength="57.2" lengthAdjust="spacing">AnxA1</text>
<text x="833.6" y="1499.8" font-size="12" fill="#222">-/-</text>
<text x="954.6" y="1507.0" font-size="16.8" font-weight="bold" textLength="28.6" lengthAdjust="spacing">WT</text>
<text x="853.6" y="1544.5" font-size="19.5" font-weight="bold" textLength="70.9" lengthAdjust="spacing">Groups</text>
<text x="659.3" y="1353.2" font-size="20" font-weight="bold" text-anchor="middle" textLength="225.5" lengthAdjust="spacing" transform="rotate(-90 659.3 1353.2)">Relative abundance (%)</text>
<line x1="1244.9" y1="1229.9" x2="1244.9" y2="1478.0" stroke="#000" stroke-width="2.7"/>
<line x1="1234.4" y1="1476.9" x2="1615.5" y2="1476.9" stroke="#000" stroke-width="2.2"/>
<line x1="1234.4" y1="1231.0" x2="1244.9" y2="1231.0" stroke="#000" stroke-width="2.2"/>
<text x="1230.4" y="1236.9" font-size="17.4" font-weight="bold" text-anchor="end">40</text>
<line x1="1234.4" y1="1292.5" x2="1244.9" y2="1292.5" stroke="#000" stroke-width="2.2"/>
<text x="1230.4" y="1298.4" font-size="17.4" font-weight="bold" text-anchor="end">30</text>
<line x1="1234.4" y1="1354.3" x2="1244.9" y2="1354.3" stroke="#000" stroke-width="2.2"/>
<text x="1230.4" y="1360.2" font-size="17.4" font-weight="bold" text-anchor="end">20</text>
<line x1="1234.4" y1="1416.1" x2="1244.9" y2="1416.1" stroke="#000" stroke-width="2.2"/>
<text x="1230.4" y="1422.0" font-size="17.4" font-weight="bold" text-anchor="end">10</text>
<line x1="1234.4" y1="1476.9" x2="1244.9" y2="1476.9" stroke="#000" stroke-width="2.2"/>
<text x="1230.4" y="1482.8" font-size="17.4" font-weight="bold" text-anchor="end">0</text>
<line x1="1349.7" y1="1476.9" x2="1349.7" y2="1487.7" stroke="#000" stroke-width="2.2"/>
<line x1="1508.0" y1="1476.9" x2="1508.0" y2="1487.7" stroke="#000" stroke-width="2.2"/>
<line x1="1456.3" y1="1430.6" x2="1561.5" y2="1430.6" stroke="#262626" stroke-width="2.6"/>
<rect x="1297.49" y="1472.15" width="10.90" height="10.90" fill="#c45f0a"/>
<rect x="1304.78" y="1472.15" width="10.90" height="10.90" fill="#c45f0a"/>
<rect x="1312.08" y="1472.15" width="10.90" height="10.90" fill="#c45f0a"/>
<rect x="1319.38" y="1472.15" width="10.90" height="10.90" fill="#c45f0a"/>
<rect x="1326.68" y="1472.15" width="10.90" height="10.90" fill="#c45f0a"/>
<rect x="1333.98" y="1472.15" width="10.90" height="10.90" fill="#c45f0a"/>
<rect x="1341.27" y="1472.15" width="10.90" height="10.90" fill="#c45f0a"/>
<rect x="1348.57" y="1472.15" width="10.90" height="10.90" fill="#c45f0a"/>
<rect x="1355.87" y="1472.15" width="10.90" height="10.90" fill="#c45f0a"/>
<rect x="1363.17" y="1472.15" width="10.90" height="10.90" fill="#c45f0a"/>
<rect x="1370.47" y="1472.15" width="10.90" height="10.90" fill="#c45f0a"/>
<rect x="1377.76" y="1472.15" width="10.90" height="10.90" fill="#c45f0a"/>
<rect x="1385.06" y="1472.15" width="10.90" height="10.90" fill="#c45f0a"/>
<rect x="1392.36" y="1472.15" width="10.90" height="10.90" fill="#c45f0a"/>
<rect x="1510.25" y="1243.18" width="10.90" height="10.90" fill="#93c0f6"/>
<rect x="1495.69" y="1273.71" width="10.90" height="10.90" fill="#93c0f6"/>
<rect x="1510.25" y="1324.20" width="10.90" height="10.90" fill="#93c0f6"/>
<rect x="1510.25" y="1436.92" width="10.90" height="10.90" fill="#93c0f6"/>
<rect x="1454.83" y="1452.89" width="10.90" height="10.90" fill="#93c0f6"/>
<rect x="1495.69" y="1452.89" width="10.90" height="10.90" fill="#93c0f6"/>
<rect x="1468.68" y="1468.62" width="10.90" height="10.90" fill="#93c0f6"/>
<rect x="1454.83" y="1472.15" width="10.90" height="10.90" fill="#93c0f6"/>
<rect x="1482.54" y="1472.15" width="10.90" height="10.90" fill="#93c0f6"/>
<rect x="1495.69" y="1472.15" width="10.90" height="10.90" fill="#93c0f6"/>
<rect x="1510.25" y="1472.15" width="10.90" height="10.90" fill="#93c0f6"/>
<rect x="1523.16" y="1472.15" width="10.90" height="10.90" fill="#93c0f6"/>
<rect x="1537.25" y="1472.15" width="10.90" height="10.90" fill="#93c0f6"/>
<rect x="1551.34" y="1472.15" width="10.90" height="10.90" fill="#93c0f6"/>
<text x="1351.3" y="1196.5" font-size="22.6" font-weight="bold" textLength="154.5" lengthAdjust="spacing">Alloprevotella</text>
<text x="1322.7" y="1220.0" font-size="19" font-weight="bold" textLength="63.8" lengthAdjust="spacing">Day 10</text>
<text x="1414.7" y="1220.0" font-size="19" font-weight="bold" textLength="131.5" lengthAdjust="spacing">p-value: 0.001</text>
<text x="1313.7" y="1507.0" font-size="16.8" font-weight="bold" textLength="57.2" lengthAdjust="spacing">AnxA1</text>
<text x="1373.1" y="1499.8" font-size="12" fill="#222">-/-</text>
<text x="1493.9" y="1507.0" font-size="16.8" font-weight="bold" textLength="28.1" lengthAdjust="spacing">WT</text>
<text x="1393.1" y="1544.5" font-size="19.5" font-weight="bold" textLength="70.5" lengthAdjust="spacing">Groups</text>
<text x="1197.0" y="1353.2" font-size="20" font-weight="bold" text-anchor="middle" textLength="225.5" lengthAdjust="spacing" transform="rotate(-90 1197.0 1353.2)">Relative abundance (%)</text>
<line x1="161.4" y1="1762.4" x2="161.4" y2="2013.5" stroke="#000" stroke-width="2.7"/>
<line x1="151.2" y1="2012.4" x2="535.7" y2="2012.4" stroke="#000" stroke-width="2.2"/>
<line x1="151.2" y1="1763.5" x2="161.4" y2="1763.5" stroke="#000" stroke-width="2.2"/>
<text x="146.8" y="1769.4" font-size="17.4" font-weight="bold" text-anchor="end">4</text>
<line x1="151.2" y1="1826.9" x2="161.4" y2="1826.9" stroke="#000" stroke-width="2.2"/>
<text x="146.8" y="1832.8" font-size="17.4" font-weight="bold" text-anchor="end">3</text>
<line x1="151.2" y1="1888.5" x2="161.4" y2="1888.5" stroke="#000" stroke-width="2.2"/>
<text x="146.8" y="1894.4" font-size="17.4" font-weight="bold" text-anchor="end">2</text>
<line x1="151.2" y1="1950.8" x2="161.4" y2="1950.8" stroke="#000" stroke-width="2.2"/>
<text x="146.8" y="1956.7" font-size="17.4" font-weight="bold" text-anchor="end">1</text>
<line x1="151.2" y1="2012.4" x2="161.4" y2="2012.4" stroke="#000" stroke-width="2.2"/>
<text x="146.8" y="2018.3" font-size="17.4" font-weight="bold" text-anchor="end">0</text>
<line x1="267.7" y1="2012.4" x2="267.7" y2="2021.8" stroke="#000" stroke-width="2.2"/>
<line x1="427.1" y1="2012.4" x2="427.1" y2="2021.8" stroke="#000" stroke-width="2.2"/>
<line x1="214.9" y1="1947.8" x2="321.4" y2="1947.8" stroke="#262626" stroke-width="2.6"/>
<line x1="375.7" y1="2001.3" x2="480.5" y2="2001.3" stroke="#262626" stroke-width="2.6"/>
<rect x="223.51" y="1955.02" width="10.90" height="10.90" fill="#c45f0a"/>
<rect x="223.51" y="2003.45" width="10.90" height="10.90" fill="#c45f0a"/>
<rect x="243.18" y="1917.44" width="10.90" height="10.90" fill="#c45f0a"/>
<rect x="243.18" y="1935.64" width="10.90" height="10.90" fill="#c45f0a"/>
<rect x="243.18" y="1954.14" width="10.90" height="10.90" fill="#c45f0a"/>
<rect x="243.18" y="1983.49" width="10.90" height="10.90" fill="#c45f0a"/>
<rect x="243.18" y="1993.76" width="10.90" height="10.90" fill="#c45f0a"/>
<rect x="262.26" y="1777.13" width="10.90" height="10.90" fill="#c45f0a"/>
<rect x="262.26" y="1866.07" width="10.90" height="10.90" fill="#c45f0a"/>
<rect x="262.26" y="1876.93" width="10.90" height="10.90" fill="#c45f0a"/>
<rect x="262.26" y="1889.56" width="10.90" height="10.90" fill="#c45f0a"/>
<rect x="262.26" y="1901.89" width="10.90" height="10.90" fill="#c45f0a"/>
<rect x="262.26" y="1917.44" width="10.90" height="10.90" fill="#c45f0a"/>
<rect x="262.26" y="1960.01" width="10.90" height="10.90" fill="#c45f0a"/>
<rect x="262.26" y="1972.63" width="10.90" height="10.90" fill="#c45f0a"/>
<rect x="262.26" y="1987.01" width="10.90" height="10.90" fill="#c45f0a"/>
<rect x="262.26" y="2001.10" width="10.90" height="10.90" fill="#c45f0a"/>
<rect x="282.22" y="1884.57" width="10.90" height="10.90" fill="#c45f0a"/>
<rect x="282.22" y="1908.64" width="10.90" height="10.90" fill="#c45f0a"/>
<rect x="282.22" y="1933.59" width="10.90" height="10.90" fill="#c45f0a"/>
<rect x="282.22" y="1958.54" width="10.90" height="10.90" fill="#c45f0a"/>
<rect x="282.22" y="1967.34" width="10.90" height="10.90" fill="#c45f0a"/>
<rect x="282.22" y="1986.42" width="10.90" height="10.90" fill="#c45f0a"/>
<rect x="282.22" y="1995.23" width="10.90" height="10.90" fill="#c45f0a"/>
<rect x="302.18" y="1913.63" width="10.90" height="10.90" fill="#c45f0a"/>
<rect x="302.18" y="1952.08" width="10.90" height="10.90" fill="#c45f0a"/>
<rect x="302.18" y="1978.21" width="10.90" height="10.90" fill="#c45f0a"/>
<rect x="302.18" y="2004.62" width="10.90" height="10.90" fill="#c45f0a"/>
<rect x="422.53" y="1940.93" width="10.90" height="10.90" fill="#93c0f6"/>
<rect x="422.53" y="1967.34" width="10.90" height="10.90" fill="#93c0f6"/>
<rect x="414.90" y="1972.63" width="10.90" height="10.90" fill="#93c0f6"/>
<rect x="422.53" y="1980.55" width="10.90" height="10.90" fill="#93c0f6"/>
<rect x="428.99" y="1983.49" width="10.90" height="10.90" fill="#93c0f6"/>
<rect x="401.10" y="1997.29" width="10.90" height="10.90" fill="#93c0f6"/>
<rect x="414.90" y="1995.23" width="10.90" height="10.90" fill="#93c0f6"/>
<rect x="376.15" y="2001.98" width="10.90" height="10.90" fill="#93c0f6"/>
<rect x="387.89" y="2003.16" width="10.90" height="10.90" fill="#93c0f6"/>
<rect x="374.39" y="2004.92" width="10.90" height="10.90" fill="#93c0f6"/>
<rect x="382.32" y="2004.92" width="10.90" height="10.90" fill="#93c0f6"/>
<rect x="390.24" y="2004.92" width="10.90" height="10.90" fill="#93c0f6"/>
<rect x="398.17" y="2004.92" width="10.90" height="10.90" fill="#93c0f6"/>
<rect x="406.09" y="2004.92" width="10.90" height="10.90" fill="#93c0f6"/>
<rect x="414.02" y="2004.92" width="10.90" height="10.90" fill="#93c0f6"/>
<rect x="421.94" y="2004.92" width="10.90" height="10.90" fill="#93c0f6"/>
<rect x="429.87" y="2004.92" width="10.90" height="10.90" fill="#93c0f6"/>
<rect x="437.79" y="2004.92" width="10.90" height="10.90" fill="#93c0f6"/>
<rect x="445.72" y="2004.92" width="10.90" height="10.90" fill="#93c0f6"/>
<rect x="453.65" y="2004.92" width="10.90" height="10.90" fill="#93c0f6"/>
<rect x="461.57" y="2004.92" width="10.90" height="10.90" fill="#93c0f6"/>
<rect x="469.50" y="2004.92" width="10.90" height="10.90" fill="#93c0f6"/>
<text x="269.2" y="1729.7" font-size="22.6" font-weight="bold" textLength="156.4" lengthAdjust="spacing">Parasutterella</text>
<text x="240.7" y="1753.2" font-size="19" font-weight="bold" textLength="51.5" lengthAdjust="spacing">Day 0</text>
<text x="302.3" y="1753.2" font-size="19" font-weight="bold" textLength="150.6" lengthAdjust="spacing">p-value &lt;0.0001</text>
<text x="231.9" y="2042.4" font-size="16.8" font-weight="bold" textLength="57.2" lengthAdjust="spacing">AnxA1</text>
<text x="291.3" y="2035.2" font-size="12" fill="#222">-/-</text>
<text x="413.0" y="2042.4" font-size="16.8" font-weight="bold" textLength="27.9" lengthAdjust="spacing">WT</text>
<text x="312.0" y="2080.5" font-size="19.5" font-weight="bold" textLength="71.0" lengthAdjust="spacing">Groups</text>
<text x="124.0" y="1887.2" font-size="20" font-weight="bold" text-anchor="middle" textLength="226.9" lengthAdjust="spacing" transform="rotate(-90 124.0 1887.2)">Relative abundance (%)</text>
<line x1="706.9" y1="1762.4" x2="706.9" y2="2008.8" stroke="#000" stroke-width="2.7"/>
<line x1="697.0" y1="2007.7" x2="1075.5" y2="2007.7" stroke="#000" stroke-width="2.2"/>
<line x1="697.0" y1="1763.5" x2="706.9" y2="1763.5" stroke="#000" stroke-width="2.2"/>
<text x="692.3" y="1769.4" font-size="17.4" font-weight="bold" text-anchor="end">10</text>
<line x1="697.0" y1="1812.6" x2="706.9" y2="1812.6" stroke="#000" stroke-width="2.2"/>
<text x="692.3" y="1818.5" font-size="17.4" font-weight="bold" text-anchor="end">8</text>
<line x1="697.0" y1="1861.4" x2="706.9" y2="1861.4" stroke="#000" stroke-width="2.2"/>
<text x="692.3" y="1867.3" font-size="17.4" font-weight="bold" text-anchor="end">6</text>
<line x1="697.0" y1="1910.7" x2="706.9" y2="1910.7" stroke="#000" stroke-width="2.2"/>
<text x="692.3" y="1916.6" font-size="17.4" font-weight="bold" text-anchor="end">4</text>
<line x1="697.0" y1="1959.4" x2="706.9" y2="1959.4" stroke="#000" stroke-width="2.2"/>
<text x="692.3" y="1965.3" font-size="17.4" font-weight="bold" text-anchor="end">2</text>
<line x1="697.0" y1="2007.7" x2="706.9" y2="2007.7" stroke="#000" stroke-width="2.2"/>
<text x="692.3" y="2013.6" font-size="17.4" font-weight="bold" text-anchor="end">0</text>
<line x1="811.4" y1="2007.7" x2="811.4" y2="2018.3" stroke="#000" stroke-width="2.2"/>
<line x1="968.7" y1="2007.7" x2="968.7" y2="2018.3" stroke="#000" stroke-width="2.2"/>
<line x1="759.7" y1="1931.9" x2="864.7" y2="1931.9" stroke="#262626" stroke-width="2.6"/>
<line x1="917.0" y1="2004.7" x2="1022.0" y2="2004.7" stroke="#262626" stroke-width="2.6"/>
<rect x="786.41" y="1893.55" width="10.90" height="10.90" fill="#c45f0a"/>
<rect x="786.41" y="1936.29" width="10.90" height="10.90" fill="#c45f0a"/>
<rect x="786.41" y="1949.44" width="10.90" height="10.90" fill="#c45f0a"/>
<rect x="786.41" y="1969.88" width="10.90" height="10.90" fill="#c45f0a"/>
<rect x="786.41" y="1999.93" width="10.90" height="10.90" fill="#c45f0a"/>
<rect x="805.90" y="1781.54" width="10.90" height="10.90" fill="#c45f0a"/>
<rect x="805.90" y="1837.19" width="10.90" height="10.90" fill="#c45f0a"/>
<rect x="805.90" y="1930.66" width="10.90" height="10.90" fill="#c45f0a"/>
<rect x="805.90" y="1943.57" width="10.90" height="10.90" fill="#c45f0a"/>
<rect x="805.90" y="1971.05" width="10.90" height="10.90" fill="#c45f0a"/>
<rect x="825.86" y="1901.77" width="10.90" height="10.90" fill="#c45f0a"/>
<rect x="825.86" y="1925.96" width="10.90" height="10.90" fill="#c45f0a"/>
<rect x="825.86" y="1937.00" width="10.90" height="10.90" fill="#c45f0a"/>
<rect x="825.86" y="1996.88" width="10.90" height="10.90" fill="#c45f0a"/>
<rect x="934.59" y="1992.18" width="10.90" height="10.90" fill="#93c0f6"/>
<rect x="934.59" y="2002.75" width="10.90" height="10.90" fill="#93c0f6"/>
<rect x="953.85" y="1998.06" width="10.90" height="10.90" fill="#93c0f6"/>
<rect x="973.34" y="2002.75" width="10.90" height="10.90" fill="#93c0f6"/>
<rect x="993.07" y="2002.75" width="10.90" height="10.90" fill="#93c0f6"/>
<text x="812.5" y="1729.5" font-size="22.6" font-weight="bold" textLength="153.8" lengthAdjust="spacing">Parasutterella</text>
<text x="790.7" y="1752.9" font-size="19" font-weight="bold" textLength="51.5" lengthAdjust="spacing">Day 6</text>
<text x="852.5" y="1752.9" font-size="19" font-weight="bold" textLength="140.8" lengthAdjust="spacing">p-value: 0.0001</text>
<text x="775.7" y="2037.6" font-size="16.8" font-weight="bold" textLength="57.2" lengthAdjust="spacing">AnxA1</text>
<text x="835.1" y="2030.4" font-size="12" fill="#222">-/-</text>
<text x="954.6" y="2037.6" font-size="16.8" font-weight="bold" textLength="28.2" lengthAdjust="spacing">WT</text>
<text x="854.3" y="2075.8" font-size="19.5" font-weight="bold" textLength="70.5" lengthAdjust="spacing">Groups</text>
<text x="660.5" y="1885.0" font-size="20" font-weight="bold" text-anchor="middle" textLength="223.1" lengthAdjust="spacing" transform="rotate(-90 660.5 1885.0)">Relative abundance (%)</text>
<line x1="1234.4" y1="1762.4" x2="1234.4" y2="2014.0" stroke="#000" stroke-width="2.7"/>
<line x1="1224.0" y1="2012.9" x2="1605.0" y2="2012.9" stroke="#000" stroke-width="2.2"/>
<line x1="1224.0" y1="1763.5" x2="1234.4" y2="1763.5" stroke="#000" stroke-width="2.2"/>
<text x="1219.8" y="1769.4" font-size="17.4" font-weight="bold" text-anchor="end">3</text>
<line x1="1224.0" y1="1846.9" x2="1234.4" y2="1846.9" stroke="#000" stroke-width="2.2"/>
<text x="1219.8" y="1852.8" font-size="17.4" font-weight="bold" text-anchor="end">2</text>
<line x1="1224.0" y1="1929.5" x2="1234.4" y2="1929.5" stroke="#000" stroke-width="2.2"/>
<text x="1219.8" y="1935.4" font-size="17.4" font-weight="bold" text-anchor="end">1</text>
<line x1="1224.0" y1="2012.9" x2="1234.4" y2="2012.9" stroke="#000" stroke-width="2.2"/>
<text x="1219.8" y="2018.8" font-size="17.4" font-weight="bold" text-anchor="end">0</text>
<line x1="1340.0" y1="2012.9" x2="1340.0" y2="2023.0" stroke="#000" stroke-width="2.2"/>
<line x1="1500.4" y1="2012.9" x2="1500.4" y2="2023.0" stroke="#000" stroke-width="2.2"/>
<line x1="1287.2" y1="1972.3" x2="1393.6" y2="1972.3" stroke="#262626" stroke-width="2.6"/>
<line x1="1447.6" y1="1989.9" x2="1552.8" y2="1989.9" stroke="#262626" stroke-width="2.6"/>
<rect x="1295.37" y="2005.57" width="10.90" height="10.90" fill="#c45f0a"/>
<rect x="1315.33" y="1951.09" width="10.90" height="10.90" fill="#c45f0a"/>
<rect x="1315.33" y="1987.49" width="10.90" height="10.90" fill="#c45f0a"/>
<rect x="1315.33" y="1998.06" width="10.90" height="10.90" fill="#c45f0a"/>
<rect x="1335.30" y="1778.48" width="10.90" height="10.90" fill="#c45f0a"/>
<rect x="1335.30" y="1871.24" width="10.90" height="10.90" fill="#c45f0a"/>
<rect x="1335.30" y="1969.41" width="10.90" height="10.90" fill="#c45f0a"/>
<rect x="1335.30" y="1982.32" width="10.90" height="10.90" fill="#c45f0a"/>
<rect x="1335.30" y="1993.36" width="10.90" height="10.90" fill="#c45f0a"/>
<rect x="1335.30" y="2005.10" width="10.90" height="10.90" fill="#c45f0a"/>
<rect x="1355.26" y="1955.78" width="10.90" height="10.90" fill="#c45f0a"/>
<rect x="1355.26" y="1988.66" width="10.90" height="10.90" fill="#c45f0a"/>
<rect x="1355.26" y="1999.23" width="10.90" height="10.90" fill="#c45f0a"/>
<rect x="1375.22" y="1985.14" width="10.90" height="10.90" fill="#c45f0a"/>
<rect x="1375.22" y="1996.88" width="10.90" height="10.90" fill="#c45f0a"/>
<rect x="1375.22" y="2006.27" width="10.90" height="10.90" fill="#c45f0a"/>
<rect x="1489.82" y="1909.99" width="10.90" height="10.90" fill="#93c0f6"/>
<rect x="1499.68" y="1906.47" width="10.90" height="10.90" fill="#93c0f6"/>
<rect x="1499.68" y="1933.95" width="10.90" height="10.90" fill="#93c0f6"/>
<rect x="1511.42" y="1992.18" width="10.90" height="10.90" fill="#93c0f6"/>
<rect x="1456.94" y="1998.06" width="10.90" height="10.90" fill="#93c0f6"/>
<rect x="1466.80" y="2001.58" width="10.90" height="10.90" fill="#93c0f6"/>
<rect x="1478.08" y="2001.58" width="10.90" height="10.90" fill="#93c0f6"/>
<rect x="1499.68" y="2001.58" width="10.90" height="10.90" fill="#93c0f6"/>
<rect x="1544.30" y="2003.22" width="10.90" height="10.90" fill="#93c0f6"/>
<rect x="1446.84" y="2006.74" width="10.90" height="10.90" fill="#93c0f6"/>
<rect x="1489.82" y="2006.74" width="10.90" height="10.90" fill="#93c0f6"/>
<rect x="1511.42" y="2006.74" width="10.90" height="10.90" fill="#93c0f6"/>
<rect x="1521.99" y="2006.74" width="10.90" height="10.90" fill="#93c0f6"/>
<rect x="1532.56" y="2006.74" width="10.90" height="10.90" fill="#93c0f6"/>
<text x="1341.4" y="1729.5" font-size="22.6" font-weight="bold" textLength="156.7" lengthAdjust="spacing">Parasutterella</text>
<text x="1307.2" y="1752.9" font-size="19" font-weight="bold" textLength="63.6" lengthAdjust="spacing">Day 10</text>
<text x="1400.6" y="1752.9" font-size="19" font-weight="bold" textLength="133.9" lengthAdjust="spacing">p-value: 0.072</text>
<text x="1304.3" y="2042.3" font-size="16.8" font-weight="bold" textLength="57.2" lengthAdjust="spacing">AnxA1</text>
<text x="1363.7" y="2035.1" font-size="12" fill="#222">-/-</text>
<text x="1485.6" y="2042.3" font-size="16.8" font-weight="bold" textLength="28.9" lengthAdjust="spacing">WT</text>
<text x="1384.9" y="2081.0" font-size="19.5" font-weight="bold" textLength="70.9" lengthAdjust="spacing">Groups</text>
<text x="1195.8" y="1887.2" font-size="20" font-weight="bold" text-anchor="middle" textLength="225.5" lengthAdjust="spacing" transform="rotate(-90 1195.8 1887.2)">Relative abundance (%)</text>
<g shape-rendering="crispEdges">
<rect x="2198.80" y="44.30" width="39.10" height="37.84" fill="#d11f4c"/>
<rect x="2237.40" y="44.30" width="35.70" height="37.84" fill="#03051a"/>
<rect x="2272.60" y="44.30" width="45.10" height="37.84" fill="#c41753"/>
<rect x="2317.20" y="44.30" width="38.20" height="37.84" fill="#03051a"/>
<rect x="2354.90" y="44.30" width="39.60" height="37.84" fill="#d62449"/>
<rect x="2394.00" y="44.30" width="40.00" height="37.84" fill="#ad1759"/>
<rect x="2198.80" y="81.64" width="39.10" height="39.59" fill="#b51657"/>
<rect x="2237.40" y="81.64" width="35.70" height="39.59" fill="#561e4f"/>
<rect x="2272.60" y="81.64" width="45.10" height="39.59" fill="#b51657"/>
<rect x="2317.20" y="81.64" width="38.20" height="39.59" fill="#03051a"/>
<rect x="2354.90" y="81.64" width="39.60" height="39.59" fill="#ca1a50"/>
<rect x="2394.00" y="81.64" width="40.00" height="39.59" fill="#ce1d4e"/>
<rect x="2198.80" y="120.73" width="39.10" height="39.59" fill="#b51657"/>
<rect x="2237.40" y="120.73" width="35.70" height="39.59" fill="#ce1d4e"/>
<rect x="2272.60" y="120.73" width="45.10" height="39.59" fill="#9a1b5b"/>
<rect x="2317.20" y="120.73" width="38.20" height="39.59" fill="#e73d3f"/>
<rect x="2354.90" y="120.73" width="39.60" height="39.59" fill="#821e5a"/>
<rect x="2394.00" y="120.73" width="40.00" height="39.59" fill="#b91657"/>
<rect x="2198.80" y="159.82" width="39.10" height="39.59" fill="#b01759"/>
<rect x="2237.40" y="159.82" width="35.70" height="39.59" fill="#ee543f"/>
<rect x="2272.60" y="159.82" width="45.10" height="39.59" fill="#bf1654"/>
<rect x="2317.20" y="159.82" width="38.20" height="39.59" fill="#f26d4b"/>
<rect x="2354.90" y="159.82" width="39.60" height="39.59" fill="#ad1759"/>
<rect x="2394.00" y="159.82" width="40.00" height="39.59" fill="#d62449"/>
<rect x="2198.80" y="198.91" width="39.10" height="39.59" fill="#b01759"/>
<rect x="2237.40" y="198.91" width="35.70" height="39.59" fill="#ec4a3e"/>
<rect x="2272.60" y="198.91" width="45.10" height="39.59" fill="#7f1e5a"/>
<rect x="2317.20" y="198.91" width="38.20" height="39.59" fill="#c41753"/>
<rect x="2354.90" y="198.91" width="39.60" height="39.59" fill="#b01759"/>
<rect x="2394.00" y="198.91" width="40.00" height="39.59" fill="#b01759"/>
<rect x="2198.80" y="238.00" width="39.10" height="39.59" fill="#b01759"/>
<rect x="2237.40" y="238.00" width="35.70" height="39.59" fill="#e53940"/>
<rect x="2272.60" y="238.00" width="45.10" height="39.59" fill="#ad1759"/>
<rect x="2317.20" y="238.00" width="38.20" height="39.59" fill="#c41753"/>
<rect x="2354.90" y="238.00" width="39.60" height="39.59" fill="#b01759"/>
<rect x="2394.00" y="238.00" width="40.00" height="39.59" fill="#b91657"/>
<rect x="2198.80" y="277.09" width="39.10" height="39.59" fill="#b01759"/>
<rect x="2237.40" y="277.09" width="35.70" height="39.59" fill="#e53940"/>
<rect x="2272.60" y="277.09" width="45.10" height="39.59" fill="#b51657"/>
<rect x="2317.20" y="277.09" width="38.20" height="39.59" fill="#d92847"/>
<rect x="2354.90" y="277.09" width="39.60" height="39.59" fill="#b01759"/>
<rect x="2394.00" y="277.09" width="40.00" height="39.59" fill="#b01759"/>
<rect x="2198.80" y="316.18" width="39.10" height="39.59" fill="#de2e44"/>
<rect x="2237.40" y="316.18" width="35.70" height="39.59" fill="#e9423e"/>
<rect x="2272.60" y="316.18" width="45.10" height="39.59" fill="#de2e44"/>
<rect x="2317.20" y="316.18" width="38.20" height="39.59" fill="#f4865e"/>
<rect x="2354.90" y="316.18" width="39.60" height="39.59" fill="#eb463e"/>
<rect x="2394.00" y="316.18" width="40.00" height="39.59" fill="#f16646"/>
<rect x="2198.80" y="355.27" width="39.10" height="39.59" fill="#ec4a3e"/>
<rect x="2237.40" y="355.27" width="35.70" height="39.59" fill="#f16244"/>
<rect x="2272.60" y="355.27" width="45.10" height="39.59" fill="#e13342"/>
<rect x="2317.20" y="355.27" width="38.20" height="39.59" fill="#e9423e"/>
<rect x="2354.90" y="355.27" width="39.60" height="39.59" fill="#d3214b"/>
<rect x="2394.00" y="355.27" width="40.00" height="39.59" fill="#eb463e"/>
<rect x="2198.80" y="394.36" width="39.10" height="39.59" fill="#d92847"/>
<rect x="2237.40" y="394.36" width="35.70" height="39.59" fill="#f26d4b"/>
<rect x="2272.60" y="394.36" width="45.10" height="39.59" fill="#e53940"/>
<rect x="2317.20" y="394.36" width="38.20" height="39.59" fill="#f4865e"/>
<rect x="2354.90" y="394.36" width="39.60" height="39.59" fill="#d11f4c"/>
<rect x="2394.00" y="394.36" width="40.00" height="39.59" fill="#d11f4c"/>
<rect x="2198.80" y="433.45" width="39.10" height="39.59" fill="#ee543f"/>
<rect x="2237.40" y="433.45" width="35.70" height="39.59" fill="#f37651"/>
<rect x="2272.60" y="433.45" width="45.10" height="39.59" fill="#e33641"/>
<rect x="2317.20" y="433.45" width="38.20" height="39.59" fill="#f4865e"/>
<rect x="2354.90" y="433.45" width="39.60" height="39.59" fill="#d3214b"/>
<rect x="2394.00" y="433.45" width="40.00" height="39.59" fill="#e9423e"/>
<rect x="2198.80" y="472.54" width="39.10" height="39.59" fill="#ec4a3e"/>
<rect x="2237.40" y="472.54" width="35.70" height="39.59" fill="#f58f66"/>
<rect x="2272.60" y="472.54" width="45.10" height="39.59" fill="#b51657"/>
<rect x="2317.20" y="472.54" width="38.20" height="39.59" fill="#de2e44"/>
<rect x="2354.90" y="472.54" width="39.60" height="39.59" fill="#c41753"/>
<rect x="2394.00" y="472.54" width="40.00" height="39.59" fill="#e53940"/>
<rect x="2198.80" y="511.63" width="39.10" height="39.59" fill="#c71951"/>
<rect x="2237.40" y="511.63" width="35.70" height="39.59" fill="#d11f4c"/>
<rect x="2272.60" y="511.63" width="45.10" height="39.59" fill="#d11f4c"/>
<rect x="2317.20" y="511.63" width="38.20" height="39.59" fill="#dc2b46"/>
<rect x="2354.90" y="511.63" width="39.60" height="39.59" fill="#b51657"/>
<rect x="2394.00" y="511.63" width="40.00" height="39.59" fill="#d3214b"/>
<rect x="2198.80" y="550.72" width="39.10" height="39.59" fill="#d3214b"/>
<rect x="2237.40" y="550.72" width="35.70" height="39.59" fill="#de2e44"/>
<rect x="2272.60" y="550.72" width="45.10" height="39.59" fill="#c71951"/>
<rect x="2317.20" y="550.72" width="38.20" height="39.59" fill="#ca1a50"/>
<rect x="2354.90" y="550.72" width="39.60" height="39.59" fill="#d62449"/>
<rect x="2394.00" y="550.72" width="40.00" height="39.59" fill="#e13342"/>
<rect x="2198.80" y="589.81" width="39.10" height="39.59" fill="#d3214b"/>
<rect x="2237.40" y="589.81" width="35.70" height="39.59" fill="#ed4e3e"/>
<rect x="2272.60" y="589.81" width="45.10" height="39.59" fill="#d92847"/>
<rect x="2317.20" y="589.81" width="38.20" height="39.59" fill="#e13342"/>
<rect x="2354.90" y="589.81" width="39.60" height="39.59" fill="#d62449"/>
<rect x="2394.00" y="589.81" width="40.00" height="39.59" fill="#e13342"/>
<rect x="2198.80" y="628.90" width="39.10" height="39.59" fill="#d3214b"/>
<rect x="2237.40" y="628.90" width="35.70" height="39.59" fill="#ee543f"/>
<rect x="2272.60" y="628.90" width="45.10" height="39.59" fill="#ca1a50"/>
<rect x="2317.20" y="628.90" width="38.20" height="39.59" fill="#e53940"/>
<rect x="2354.90" y="628.90" width="39.60" height="39.59" fill="#d92847"/>
<rect x="2394.00" y="628.90" width="40.00" height="39.59" fill="#de2e44"/>
<rect x="2198.80" y="667.99" width="39.10" height="39.59" fill="#f7d0b5"/>
<rect x="2237.40" y="667.99" width="35.70" height="39.59" fill="#f7c6a6"/>
<rect x="2272.60" y="667.99" width="45.10" height="39.59" fill="#f9ddc9"/>
<rect x="2317.20" y="667.99" width="38.20" height="39.59" fill="#f9e0cd"/>
<rect x="2354.90" y="667.99" width="39.60" height="39.59" fill="#f9ddc9"/>
<rect x="2394.00" y="667.99" width="40.00" height="39.59" fill="#faebdd"/>
<rect x="2198.80" y="707.08" width="39.10" height="39.59" fill="#f6bb97"/>
<rect x="2237.40" y="707.08" width="35.70" height="39.59" fill="#f9e0cd"/>
<rect x="2272.60" y="707.08" width="45.10" height="39.59" fill="#f6a981"/>
<rect x="2317.20" y="707.08" width="38.20" height="39.59" fill="#f6b48f"/>
<rect x="2354.90" y="707.08" width="39.60" height="39.59" fill="#f6ad85"/>
<rect x="2394.00" y="707.08" width="40.00" height="39.59" fill="#f7c2a2"/>
<rect x="2198.80" y="746.17" width="39.10" height="39.59" fill="#ec4a3e"/>
<rect x="2237.40" y="746.17" width="35.70" height="39.59" fill="#e53940"/>
<rect x="2272.60" y="746.17" width="45.10" height="39.59" fill="#f26948"/>
<rect x="2317.20" y="746.17" width="38.20" height="39.59" fill="#d11f4c"/>
<rect x="2354.90" y="746.17" width="39.60" height="39.59" fill="#f16244"/>
<rect x="2394.00" y="746.17" width="40.00" height="39.59" fill="#f4835b"/>
<rect x="2198.80" y="785.26" width="39.10" height="39.59" fill="#e9423e"/>
<rect x="2237.40" y="785.26" width="35.70" height="39.59" fill="#e53940"/>
<rect x="2272.60" y="785.26" width="45.10" height="39.59" fill="#eb463e"/>
<rect x="2317.20" y="785.26" width="38.20" height="39.59" fill="#bc1656"/>
<rect x="2354.90" y="785.26" width="39.60" height="39.59" fill="#f4865e"/>
<rect x="2394.00" y="785.26" width="40.00" height="39.59" fill="#f58a61"/>
<rect x="2198.80" y="824.35" width="39.10" height="39.59" fill="#ee543f"/>
<rect x="2237.40" y="824.35" width="35.70" height="39.59" fill="#f3734e"/>
<rect x="2272.60" y="824.35" width="45.10" height="39.59" fill="#f26948"/>
<rect x="2317.20" y="824.35" width="38.20" height="39.59" fill="#f5966c"/>
<rect x="2354.90" y="824.35" width="39.60" height="39.59" fill="#f26948"/>
<rect x="2394.00" y="824.35" width="40.00" height="39.59" fill="#f37651"/>
<rect x="2198.80" y="863.44" width="39.10" height="39.59" fill="#f58f66"/>
<rect x="2237.40" y="863.44" width="35.70" height="39.59" fill="#f3734e"/>
<rect x="2272.60" y="863.44" width="45.10" height="39.59" fill="#f47f58"/>
<rect x="2317.20" y="863.44" width="38.20" height="39.59" fill="#ed4e3e"/>
<rect x="2354.90" y="863.44" width="39.60" height="39.59" fill="#f16646"/>
<rect x="2394.00" y="863.44" width="40.00" height="39.59" fill="#f3734e"/>
<rect x="2198.80" y="902.53" width="39.10" height="39.59" fill="#f37651"/>
<rect x="2237.40" y="902.53" width="35.70" height="39.59" fill="#f58f66"/>
<rect x="2272.60" y="902.53" width="45.10" height="39.59" fill="#f16646"/>
<rect x="2317.20" y="902.53" width="38.20" height="39.59" fill="#f26948"/>
<rect x="2354.90" y="902.53" width="39.60" height="39.59" fill="#f26948"/>
<rect x="2394.00" y="902.53" width="40.00" height="39.59" fill="#f37651"/>
<rect x="2198.80" y="941.62" width="39.10" height="39.59" fill="#f47a54"/>
<rect x="2237.40" y="941.62" width="35.70" height="39.59" fill="#f7c9aa"/>
<rect x="2272.60" y="941.62" width="45.10" height="39.59" fill="#f58a61"/>
<rect x="2317.20" y="941.62" width="38.20" height="39.59" fill="#f7c9aa"/>
<rect x="2354.90" y="941.62" width="39.60" height="39.59" fill="#f47a54"/>
<rect x="2394.00" y="941.62" width="40.00" height="39.59" fill="#f47f58"/>
<rect x="2198.80" y="980.71" width="39.10" height="39.59" fill="#f26948"/>
<rect x="2237.40" y="980.71" width="35.70" height="39.59" fill="#f6b893"/>
<rect x="2272.60" y="980.71" width="45.10" height="39.59" fill="#f16646"/>
<rect x="2317.20" y="980.71" width="38.20" height="39.59" fill="#f6a47c"/>
<rect x="2354.90" y="980.71" width="39.60" height="39.59" fill="#e9423e"/>
<rect x="2394.00" y="980.71" width="40.00" height="39.59" fill="#f26d4b"/>
<rect x="2198.80" y="1019.80" width="39.10" height="39.59" fill="#591e50"/>
<rect x="2237.40" y="1019.80" width="35.70" height="39.59" fill="#f6b893"/>
<rect x="2272.60" y="1019.80" width="45.10" height="39.59" fill="#2e1739"/>
<rect x="2317.20" y="1019.80" width="38.20" height="39.59" fill="#f37651"/>
<rect x="2354.90" y="1019.80" width="39.60" height="39.59" fill="#a4195b"/>
<rect x="2394.00" y="1019.80" width="40.00" height="39.59" fill="#eb463e"/>
<rect x="2198.80" y="1058.89" width="39.10" height="39.59" fill="#281535"/>
<rect x="2237.40" y="1058.89" width="35.70" height="39.59" fill="#e33641"/>
<rect x="2272.60" y="1058.89" width="45.10" height="39.59" fill="#03051a"/>
<rect x="2317.20" y="1058.89" width="38.20" height="39.59" fill="#f47a54"/>
<rect x="2354.90" y="1058.89" width="39.60" height="39.59" fill="#6b1f56"/>
<rect x="2394.00" y="1058.89" width="40.00" height="39.59" fill="#ee543f"/>
<rect x="2198.80" y="1097.98" width="39.10" height="39.59" fill="#2e1739"/>
<rect x="2237.40" y="1097.98" width="35.70" height="39.59" fill="#eb463e"/>
<rect x="2272.60" y="1097.98" width="45.10" height="39.59" fill="#731f58"/>
<rect x="2317.20" y="1097.98" width="38.20" height="39.59" fill="#e13342"/>
<rect x="2354.90" y="1097.98" width="39.60" height="39.59" fill="#461c48"/>
<rect x="2394.00" y="1097.98" width="40.00" height="39.59" fill="#4b1d4a"/>
<rect x="2198.80" y="1137.07" width="39.10" height="39.59" fill="#4b1d4a"/>
<rect x="2237.40" y="1137.07" width="35.70" height="39.59" fill="#ec4a3e"/>
<rect x="2272.60" y="1137.07" width="45.10" height="39.59" fill="#8e1d5b"/>
<rect x="2317.20" y="1137.07" width="38.20" height="39.59" fill="#ee543f"/>
<rect x="2354.90" y="1137.07" width="39.60" height="39.59" fill="#731f58"/>
<rect x="2394.00" y="1137.07" width="40.00" height="39.59" fill="#bc1656"/>
<rect x="2198.80" y="1176.16" width="39.10" height="39.59" fill="#2b1637"/>
<rect x="2237.40" y="1176.16" width="35.70" height="39.59" fill="#e9423e"/>
<rect x="2272.60" y="1176.16" width="45.10" height="39.59" fill="#591e50"/>
<rect x="2317.20" y="1176.16" width="38.20" height="39.59" fill="#ed4e3e"/>
<rect x="2354.90" y="1176.16" width="39.60" height="39.59" fill="#03051a"/>
<rect x="2394.00" y="1176.16" width="40.00" height="39.59" fill="#bc1656"/>
<rect x="2198.80" y="1215.25" width="39.10" height="39.59" fill="#5c1e51"/>
<rect x="2237.40" y="1215.25" width="35.70" height="39.59" fill="#591e50"/>
<rect x="2272.60" y="1215.25" width="45.10" height="39.59" fill="#561e4f"/>
<rect x="2317.20" y="1215.25" width="38.20" height="39.59" fill="#a4195b"/>
<rect x="2354.90" y="1215.25" width="39.60" height="39.59" fill="#891e5b"/>
<rect x="2394.00" y="1215.25" width="40.00" height="39.59" fill="#35193e"/>
<rect x="2198.80" y="1254.34" width="39.10" height="39.59" fill="#8e1d5b"/>
<rect x="2237.40" y="1254.34" width="35.70" height="39.59" fill="#e53940"/>
<rect x="2272.60" y="1254.34" width="45.10" height="39.59" fill="#891e5b"/>
<rect x="2317.20" y="1254.34" width="38.20" height="39.59" fill="#281535"/>
<rect x="2354.90" y="1254.34" width="39.60" height="39.59" fill="#731f58"/>
<rect x="2394.00" y="1254.34" width="40.00" height="39.59" fill="#861e5b"/>
<rect x="2198.80" y="1293.43" width="39.10" height="39.59" fill="#6b1f56"/>
<rect x="2237.40" y="1293.43" width="35.70" height="39.59" fill="#a11a5b"/>
<rect x="2272.60" y="1293.43" width="45.10" height="39.59" fill="#731f58"/>
<rect x="2317.20" y="1293.43" width="38.20" height="39.59" fill="#bc1656"/>
<rect x="2354.90" y="1293.43" width="39.60" height="39.59" fill="#7f1e5a"/>
<rect x="2394.00" y="1293.43" width="40.00" height="39.59" fill="#bf1654"/>
<rect x="2198.80" y="1332.52" width="39.10" height="39.59" fill="#8e1d5b"/>
<rect x="2237.40" y="1332.52" width="35.70" height="39.59" fill="#a11a5b"/>
<rect x="2272.60" y="1332.52" width="45.10" height="39.59" fill="#761f58"/>
<rect x="2317.20" y="1332.52" width="38.20" height="39.59" fill="#bf1654"/>
<rect x="2354.90" y="1332.52" width="39.60" height="39.59" fill="#641f54"/>
<rect x="2394.00" y="1332.52" width="40.00" height="39.59" fill="#7f1e5a"/>
<rect x="2198.80" y="1371.61" width="39.10" height="39.59" fill="#891e5b"/>
<rect x="2237.40" y="1371.61" width="35.70" height="39.59" fill="#b51657"/>
<rect x="2272.60" y="1371.61" width="45.10" height="39.59" fill="#7a1f59"/>
<rect x="2317.20" y="1371.61" width="38.20" height="39.59" fill="#a11a5b"/>
<rect x="2354.90" y="1371.61" width="39.60" height="39.59" fill="#891e5b"/>
<rect x="2394.00" y="1371.61" width="40.00" height="39.59" fill="#7f1e5a"/>
<rect x="2198.80" y="1410.70" width="39.10" height="39.59" fill="#731f58"/>
<rect x="2237.40" y="1410.70" width="35.70" height="39.59" fill="#a11a5b"/>
<rect x="2272.60" y="1410.70" width="45.10" height="39.59" fill="#731f58"/>
<rect x="2317.20" y="1410.70" width="38.20" height="39.59" fill="#aa185a"/>
<rect x="2354.90" y="1410.70" width="39.60" height="39.59" fill="#8e1d5b"/>
<rect x="2394.00" y="1410.70" width="40.00" height="39.59" fill="#7f1e5a"/>
<rect x="2198.80" y="1449.79" width="39.10" height="39.59" fill="#861e5b"/>
<rect x="2237.40" y="1449.79" width="35.70" height="39.59" fill="#f16646"/>
<rect x="2272.60" y="1449.79" width="45.10" height="39.59" fill="#511e4d"/>
<rect x="2317.20" y="1449.79" width="38.20" height="39.59" fill="#a4195b"/>
<rect x="2354.90" y="1449.79" width="39.60" height="39.59" fill="#861e5b"/>
<rect x="2394.00" y="1449.79" width="40.00" height="39.59" fill="#aa185a"/>
<rect x="2198.80" y="1488.88" width="39.10" height="39.59" fill="#9e1a5b"/>
<rect x="2237.40" y="1488.88" width="35.70" height="39.59" fill="#e53940"/>
<rect x="2272.60" y="1488.88" width="45.10" height="39.59" fill="#761f58"/>
<rect x="2317.20" y="1488.88" width="38.20" height="39.59" fill="#ca1a50"/>
<rect x="2354.90" y="1488.88" width="39.60" height="39.59" fill="#aa185a"/>
<rect x="2394.00" y="1488.88" width="40.00" height="39.59" fill="#701f57"/>
<rect x="2198.80" y="1527.97" width="39.10" height="39.59" fill="#891e5b"/>
<rect x="2237.40" y="1527.97" width="35.70" height="39.59" fill="#c71951"/>
<rect x="2272.60" y="1527.97" width="45.10" height="39.59" fill="#841e5a"/>
<rect x="2317.20" y="1527.97" width="38.20" height="39.59" fill="#901d5b"/>
<rect x="2354.90" y="1527.97" width="39.60" height="39.59" fill="#901d5b"/>
<rect x="2394.00" y="1527.97" width="40.00" height="39.59" fill="#9e1a5b"/>
<rect x="2198.80" y="1567.06" width="39.10" height="39.59" fill="#8e1d5b"/>
<rect x="2237.40" y="1567.06" width="35.70" height="39.59" fill="#d11f4c"/>
<rect x="2272.60" y="1567.06" width="45.10" height="39.59" fill="#9a1b5b"/>
<rect x="2317.20" y="1567.06" width="38.20" height="39.59" fill="#aa185a"/>
<rect x="2354.90" y="1567.06" width="39.60" height="39.59" fill="#9a1b5b"/>
<rect x="2394.00" y="1567.06" width="40.00" height="39.59" fill="#951c5b"/>
<rect x="2198.80" y="1606.15" width="39.10" height="39.59" fill="#861e5b"/>
<rect x="2237.40" y="1606.15" width="35.70" height="39.59" fill="#e13342"/>
<rect x="2272.60" y="1606.15" width="45.10" height="39.59" fill="#7a1f59"/>
<rect x="2317.20" y="1606.15" width="38.20" height="39.59" fill="#b01759"/>
<rect x="2354.90" y="1606.15" width="39.60" height="39.59" fill="#951c5b"/>
<rect x="2394.00" y="1606.15" width="40.00" height="39.59" fill="#9e1a5b"/>
<rect x="2198.80" y="1645.24" width="39.10" height="39.59" fill="#aa185a"/>
<rect x="2237.40" y="1645.24" width="35.70" height="39.59" fill="#dc2b46"/>
<rect x="2272.60" y="1645.24" width="45.10" height="39.59" fill="#891e5b"/>
<rect x="2317.20" y="1645.24" width="38.20" height="39.59" fill="#b01759"/>
<rect x="2354.90" y="1645.24" width="39.60" height="39.59" fill="#861e5b"/>
<rect x="2394.00" y="1645.24" width="40.00" height="39.59" fill="#a4195b"/>
<rect x="2198.80" y="1684.33" width="39.10" height="39.59" fill="#aa185a"/>
<rect x="2237.40" y="1684.33" width="35.70" height="39.59" fill="#d62449"/>
<rect x="2272.60" y="1684.33" width="45.10" height="39.59" fill="#951c5b"/>
<rect x="2317.20" y="1684.33" width="38.20" height="39.59" fill="#b01759"/>
<rect x="2354.90" y="1684.33" width="39.60" height="39.59" fill="#951c5b"/>
<rect x="2394.00" y="1684.33" width="40.00" height="39.59" fill="#b01759"/>
<rect x="2198.80" y="1723.42" width="39.10" height="39.59" fill="#03051a"/>
<rect x="2237.40" y="1723.42" width="35.70" height="39.59" fill="#861e5b"/>
<rect x="2272.60" y="1723.42" width="45.10" height="39.59" fill="#5c1e51"/>
<rect x="2317.20" y="1723.42" width="38.20" height="39.59" fill="#3d1a42"/>
<rect x="2354.90" y="1723.42" width="39.60" height="39.59" fill="#431c46"/>
<rect x="2394.00" y="1723.42" width="40.00" height="39.59" fill="#281535"/>
<rect x="2198.80" y="1762.51" width="39.10" height="39.59" fill="#03051a"/>
<rect x="2237.40" y="1762.51" width="35.70" height="39.59" fill="#5c1e51"/>
<rect x="2272.60" y="1762.51" width="45.10" height="39.59" fill="#641f54"/>
<rect x="2317.20" y="1762.51" width="38.20" height="39.59" fill="#7f1e5a"/>
<rect x="2354.90" y="1762.51" width="39.60" height="39.59" fill="#03051a"/>
<rect x="2394.00" y="1762.51" width="40.00" height="39.59" fill="#561e4f"/>
<rect x="2198.80" y="1801.60" width="39.10" height="39.59" fill="#6b1f56"/>
<rect x="2237.40" y="1801.60" width="35.70" height="39.59" fill="#951c5b"/>
<rect x="2272.60" y="1801.60" width="45.10" height="39.59" fill="#461c48"/>
<rect x="2317.20" y="1801.60" width="38.20" height="39.59" fill="#861e5b"/>
<rect x="2354.90" y="1801.60" width="39.60" height="39.59" fill="#03051a"/>
<rect x="2394.00" y="1801.60" width="40.00" height="39.59" fill="#4b1d4a"/>
<rect x="2198.80" y="1840.69" width="39.10" height="39.59" fill="#731f58"/>
<rect x="2237.40" y="1840.69" width="35.70" height="39.59" fill="#921c5b"/>
<rect x="2272.60" y="1840.69" width="45.10" height="39.59" fill="#641f54"/>
<rect x="2317.20" y="1840.69" width="38.20" height="39.59" fill="#461c48"/>
<rect x="2354.90" y="1840.69" width="39.60" height="39.59" fill="#4b1d4a"/>
<rect x="2394.00" y="1840.69" width="40.00" height="39.59" fill="#591e50"/>
<rect x="2198.80" y="1879.78" width="39.10" height="39.59" fill="#03051a"/>
<rect x="2237.40" y="1879.78" width="35.70" height="39.59" fill="#951c5b"/>
<rect x="2272.60" y="1879.78" width="45.10" height="39.59" fill="#03051a"/>
<rect x="2317.20" y="1879.78" width="38.20" height="39.59" fill="#d92847"/>
<rect x="2354.90" y="1879.78" width="39.60" height="39.59" fill="#251433"/>
<rect x="2394.00" y="1879.78" width="40.00" height="39.59" fill="#8e1d5b"/>
<rect x="2198.80" y="1918.87" width="39.10" height="39.59" fill="#461c48"/>
<rect x="2237.40" y="1918.87" width="35.70" height="39.59" fill="#f3734e"/>
<rect x="2272.60" y="1918.87" width="45.10" height="39.59" fill="#03051a"/>
<rect x="2317.20" y="1918.87" width="38.20" height="39.59" fill="#5c1e51"/>
<rect x="2354.90" y="1918.87" width="39.60" height="39.59" fill="#281535"/>
<rect x="2394.00" y="1918.87" width="40.00" height="39.59" fill="#4b1d4a"/>
<rect x="2198.80" y="1957.96" width="39.10" height="37.04" fill="#761f58"/>
<rect x="2237.40" y="1957.96" width="35.70" height="37.04" fill="#bf1654"/>
<rect x="2272.60" y="1957.96" width="45.10" height="37.04" fill="#03051a"/>
<rect x="2317.20" y="1957.96" width="38.20" height="37.04" fill="#9e1a5b"/>
<rect x="2354.90" y="1957.96" width="39.60" height="37.04" fill="#3d1a42"/>
<rect x="2394.00" y="1957.96" width="40.00" height="37.04" fill="#3d1a42"/>
</g>
<text x="2166.6" y="70.0" font-size="21.65" text-anchor="end" fill="#333" font-family="'DejaVu Sans', 'Liberation Sans', sans-serif">g__A2</text>
<text x="2166.6" y="109.1" font-size="21.65" text-anchor="end" fill="#333" font-family="'DejaVu Sans', 'Liberation Sans', sans-serif">g__[Eubacterium]_xylanophilum_group</text>
<text x="2166.6" y="148.2" font-size="21.65" text-anchor="end" fill="#333" font-family="'DejaVu Sans', 'Liberation Sans', sans-serif">g__Anaeroplasma</text>
<text x="2166.6" y="187.3" font-size="21.65" text-anchor="end" fill="#333" font-family="'DejaVu Sans', 'Liberation Sans', sans-serif">g__Gastranaerophilales</text>
<text x="2166.6" y="226.4" font-size="21.65" text-anchor="end" fill="#333" font-family="'DejaVu Sans', 'Liberation Sans', sans-serif">g__Lachnoclostridium</text>
<text x="2166.6" y="265.5" font-size="21.65" text-anchor="end" fill="#333" font-family="'DejaVu Sans', 'Liberation Sans', sans-serif">g__uncultured</text>
<text x="2166.6" y="304.6" font-size="21.65" text-anchor="end" fill="#333" font-family="'DejaVu Sans', 'Liberation Sans', sans-serif">f__Oscillospiraceae;__</text>
<text x="2166.6" y="343.7" font-size="21.65" text-anchor="end" fill="#333" font-family="'DejaVu Sans', 'Liberation Sans', sans-serif">g__Parasutterella</text>
<text x="2166.6" y="382.8" font-size="21.65" text-anchor="end" fill="#333" font-family="'DejaVu Sans', 'Liberation Sans', sans-serif">g__Helicobacter</text>
<text x="2166.6" y="421.9" font-size="21.65" text-anchor="end" fill="#333" font-family="'DejaVu Sans', 'Liberation Sans', sans-serif">g__Rikenellaceae_RC9_gut_group</text>
<text x="2166.6" y="460.9" font-size="21.65" text-anchor="end" fill="#333" font-family="'DejaVu Sans', 'Liberation Sans', sans-serif">g__Clostridia_vadinBB60_group</text>
<text x="2166.6" y="500.0" font-size="21.65" text-anchor="end" fill="#333" font-family="'DejaVu Sans', 'Liberation Sans', sans-serif">g__Mucispirillum</text>
<text x="2166.6" y="539.1" font-size="21.65" text-anchor="end" fill="#333" font-family="'DejaVu Sans', 'Liberation Sans', sans-serif">g__Rikenella</text>
<text x="2166.6" y="578.2" font-size="21.65" text-anchor="end" fill="#333" font-family="'DejaVu Sans', 'Liberation Sans', sans-serif">g__Desulfovibrio</text>
<text x="2166.6" y="617.3" font-size="21.65" text-anchor="end" fill="#333" font-family="'DejaVu Sans', 'Liberation Sans', sans-serif">g__Colidextribacter</text>
<text x="2166.6" y="656.4" font-size="21.65" text-anchor="end" fill="#333" font-family="'DejaVu Sans', 'Liberation Sans', sans-serif">g__Oscillibacter</text>
<text x="2166.6" y="695.5" font-size="21.65" text-anchor="end" fill="#333" font-family="'DejaVu Sans', 'Liberation Sans', sans-serif">g__Muribaculaceae</text>
<text x="2166.6" y="734.6" font-size="21.65" text-anchor="end" fill="#333" font-family="'DejaVu Sans', 'Liberation Sans', sans-serif">g__Lachnospiraceae_NK4A136_group</text>
<text x="2166.6" y="773.7" font-size="21.65" text-anchor="end" fill="#333" font-family="'DejaVu Sans', 'Liberation Sans', sans-serif">g__Muribaculum</text>
<text x="2166.6" y="812.8" font-size="21.65" text-anchor="end" fill="#333" font-family="'DejaVu Sans', 'Liberation Sans', sans-serif">g__Lactobacillus</text>
<text x="2166.6" y="851.8" font-size="21.65" text-anchor="end" fill="#333" font-family="'DejaVu Sans', 'Liberation Sans', sans-serif">g__Prevotellaceae_UCG-001</text>
<text x="2166.6" y="890.9" font-size="21.65" text-anchor="end" fill="#333" font-family="'DejaVu Sans', 'Liberation Sans', sans-serif">g__Alistipes</text>
<text x="2166.6" y="930.0" font-size="21.65" text-anchor="end" fill="#333" font-family="'DejaVu Sans', 'Liberation Sans', sans-serif">f__Lachnospiraceae;__</text>
<text x="2166.6" y="969.1" font-size="21.65" text-anchor="end" fill="#333" font-family="'DejaVu Sans', 'Liberation Sans', sans-serif">g__Bacteroides</text>
<text x="2166.6" y="1008.2" font-size="21.65" text-anchor="end" fill="#333" font-family="'DejaVu Sans', 'Liberation Sans', sans-serif">g__Odoribacter</text>
<text x="2166.6" y="1047.3" font-size="21.65" text-anchor="end" fill="#333" font-family="'DejaVu Sans', 'Liberation Sans', sans-serif">g__Akkermansia</text>
<text x="2166.6" y="1086.4" font-size="21.65" text-anchor="end" fill="#333" font-family="'DejaVu Sans', 'Liberation Sans', sans-serif">g__Faecalibaculum</text>
<text x="2166.6" y="1125.5" font-size="21.65" text-anchor="end" fill="#333" font-family="'DejaVu Sans', 'Liberation Sans', sans-serif">g__Turicibacter</text>
<text x="2166.6" y="1164.6" font-size="21.65" text-anchor="end" fill="#333" font-family="'DejaVu Sans', 'Liberation Sans', sans-serif">g__Parabacteroides</text>
<text x="2166.6" y="1203.7" font-size="21.65" text-anchor="end" fill="#333" font-family="'DejaVu Sans', 'Liberation Sans', sans-serif">g__uncultured</text>
<text x="2166.6" y="1242.7" font-size="21.65" text-anchor="end" fill="#333" font-family="'DejaVu Sans', 'Liberation Sans', sans-serif">g__Clostridia_UCG-014</text>
<text x="2166.6" y="1281.8" font-size="21.65" text-anchor="end" fill="#333" font-family="'DejaVu Sans', 'Liberation Sans', sans-serif">g__Butyricicoccus</text>
<text x="2166.6" y="1320.9" font-size="21.65" text-anchor="end" fill="#333" font-family="'DejaVu Sans', 'Liberation Sans', sans-serif">g__Bifidobacterium</text>
<text x="2166.6" y="1360.0" font-size="21.65" text-anchor="end" fill="#333" font-family="'DejaVu Sans', 'Liberation Sans', sans-serif">g__Bilophila</text>
<text x="2166.6" y="1399.1" font-size="21.65" text-anchor="end" fill="#333" font-family="'DejaVu Sans', 'Liberation Sans', sans-serif">g__uncultured</text>
<text x="2166.6" y="1438.2" font-size="21.65" text-anchor="end" fill="#333" font-family="'DejaVu Sans', 'Liberation Sans', sans-serif">g__[Eubacterium]_coprostanoligenes_group</text>
<text x="2166.6" y="1477.3" font-size="21.65" text-anchor="end" fill="#333" font-family="'DejaVu Sans', 'Liberation Sans', sans-serif">g__uncultured</text>
<text x="2166.6" y="1516.4" font-size="21.65" text-anchor="end" fill="#333" font-family="'DejaVu Sans', 'Liberation Sans', sans-serif">g__Lachnospiraceae_UCG-006</text>
<text x="2166.6" y="1555.5" font-size="21.65" text-anchor="end" fill="#333" font-family="'DejaVu Sans', 'Liberation Sans', sans-serif">g__ASF356</text>
<text x="2166.6" y="1594.6" font-size="21.65" text-anchor="end" fill="#333" font-family="'DejaVu Sans', 'Liberation Sans', sans-serif">g__Acetatifactor</text>
<text x="2166.6" y="1633.6" font-size="21.65" text-anchor="end" fill="#333" font-family="'DejaVu Sans', 'Liberation Sans', sans-serif">g__Blautia</text>
<text x="2166.6" y="1672.7" font-size="21.65" text-anchor="end" fill="#333" font-family="'DejaVu Sans', 'Liberation Sans', sans-serif">g__Incertae_Sedis</text>
<text x="2166.6" y="1711.8" font-size="21.65" text-anchor="end" fill="#333" font-family="'DejaVu Sans', 'Liberation Sans', sans-serif">g__GCA-900066575</text>
<text x="2166.6" y="1750.9" font-size="21.65" text-anchor="end" fill="#333" font-family="'DejaVu Sans', 'Liberation Sans', sans-serif">d__Bacteria;__;__;__;__;__</text>
<text x="2166.6" y="1790.0" font-size="21.65" text-anchor="end" fill="#333" font-family="'DejaVu Sans', 'Liberation Sans', sans-serif">g__Brevibacillus</text>
<text x="2166.6" y="1829.1" font-size="21.65" text-anchor="end" fill="#333" font-family="'DejaVu Sans', 'Liberation Sans', sans-serif">g__uncultured</text>
<text x="2166.6" y="1868.2" font-size="21.65" text-anchor="end" fill="#333" font-family="'DejaVu Sans', 'Liberation Sans', sans-serif">g__UCG-009</text>
<text x="2166.6" y="1907.3" font-size="21.65" text-anchor="end" fill="#333" font-family="'DejaVu Sans', 'Liberation Sans', sans-serif">g__Ruminococcus</text>
<text x="2166.6" y="1946.4" font-size="21.65" text-anchor="end" fill="#333" font-family="'DejaVu Sans', 'Liberation Sans', sans-serif">g__Escherichia-Shigella</text>
<text x="2166.6" y="1985.5" font-size="21.65" text-anchor="end" fill="#333" font-family="'DejaVu Sans', 'Liberation Sans', sans-serif">c__Clostridia;__;__;__</text>
<text x="2219.1" y="2015.4" font-size="21" text-anchor="end" fill="#333" textLength="146.3" lengthAdjust="spacingAndGlyphs" transform="rotate(-90 2219.1 2015.4)">AnxA1-/- Dia 10</text>
<text x="2262.3" y="2015.4" font-size="21" text-anchor="end" fill="#333" textLength="182.9" lengthAdjust="spacingAndGlyphs" transform="rotate(-90 2262.3 2015.4)">AxA1-/- DSS Dia 10</text>
<text x="2300.2" y="2015.4" font-size="21" text-anchor="end" fill="#333" textLength="133.6" lengthAdjust="spacingAndGlyphs" transform="rotate(-90 2300.2 2015.4)">AnxA1-/- Dia 6</text>
<text x="2337.7" y="2015.4" font-size="21" text-anchor="end" fill="#333" textLength="181.3" lengthAdjust="spacingAndGlyphs" transform="rotate(-90 2337.7 2015.4)">AnxA1-/- DSS Dia 6</text>
<text x="2380.6" y="2015.4" font-size="21" text-anchor="end" fill="#333" textLength="133.6" lengthAdjust="spacingAndGlyphs" transform="rotate(-90 2380.6 2015.4)">AnxA1-/- Dia 0</text>
<text x="2423.5" y="2015.4" font-size="21" text-anchor="end" fill="#333" textLength="181.3" lengthAdjust="spacingAndGlyphs" transform="rotate(-90 2423.5 2015.4)">AnxA1-/- DSS Dia 0</text>
<defs><linearGradient id="rk" x1="0" x2="1" y1="0" y2="0">
<stop offset="0.0000" stop-color="#03051a"/>
<stop offset="0.0250" stop-color="#0a091f"/>
<stop offset="0.0500" stop-color="#130d25"/>
<stop offset="0.0750" stop-color="#1d112c"/>
<stop offset="0.1000" stop-color="#251433"/>
<stop offset="0.1250" stop-color="#30173a"/>
<stop offset="0.1500" stop-color="#381a40"/>
<stop offset="0.1750" stop-color="#421b45"/>
<stop offset="0.2000" stop-color="#4c1d4b"/>
<stop offset="0.2250" stop-color="#561e4f"/>
<stop offset="0.2500" stop-color="#611f53"/>
<stop offset="0.2750" stop-color="#6b1f56"/>
<stop offset="0.3000" stop-color="#751f58"/>
<stop offset="0.3250" stop-color="#811e5a"/>
<stop offset="0.3500" stop-color="#8b1d5b"/>
<stop offset="0.3750" stop-color="#971c5b"/>
<stop offset="0.4000" stop-color="#a11a5b"/>
<stop offset="0.4250" stop-color="#ab185a"/>
<stop offset="0.4500" stop-color="#b71657"/>
<stop offset="0.4750" stop-color="#c11754"/>
<stop offset="0.5000" stop-color="#cb1b4f"/>
<stop offset="0.5250" stop-color="#d3214b"/>
<stop offset="0.5500" stop-color="#db2946"/>
<stop offset="0.5750" stop-color="#e23442"/>
<stop offset="0.6000" stop-color="#e83f3f"/>
<stop offset="0.6250" stop-color="#ec4c3e"/>
<stop offset="0.6500" stop-color="#ef5840"/>
<stop offset="0.6750" stop-color="#f16445"/>
<stop offset="0.7000" stop-color="#f3714d"/>
<stop offset="0.7250" stop-color="#f47c55"/>
<stop offset="0.7500" stop-color="#f58860"/>
<stop offset="0.7750" stop-color="#f59269"/>
<stop offset="0.8000" stop-color="#f69c73"/>
<stop offset="0.8250" stop-color="#f6a880"/>
<stop offset="0.8500" stop-color="#f6b18b"/>
<stop offset="0.8750" stop-color="#f6bc99"/>
<stop offset="0.9000" stop-color="#f7c6a6"/>
<stop offset="0.9250" stop-color="#f7cfb3"/>
<stop offset="0.9500" stop-color="#f8d9c3"/>
<stop offset="0.9750" stop-color="#f9e2d0"/>
<stop offset="1.0000" stop-color="#faebdd"/>
</linearGradient></defs>
<rect x="1884" y="2052.6" width="285.6" height="78" fill="url(#rk)"/>
<line x1="1884.0" y1="2130.6" x2="1884.0" y2="2144.2" stroke="#333" stroke-width="2"/>
<text x="1884.0" y="2167.1" font-size="20.5" text-anchor="middle" fill="#333">0</text>
<line x1="1934.9" y1="2130.6" x2="1934.9" y2="2144.2" stroke="#333" stroke-width="2"/>
<text x="1934.9" y="2167.1" font-size="20.5" text-anchor="middle" fill="#333">1</text>
<line x1="1985.8" y1="2130.6" x2="1985.8" y2="2144.2" stroke="#333" stroke-width="2"/>
<text x="1985.8" y="2167.1" font-size="20.5" text-anchor="middle" fill="#333">2</text>
<line x1="2036.7" y1="2130.6" x2="2036.7" y2="2144.2" stroke="#333" stroke-width="2"/>
<text x="2036.7" y="2167.1" font-size="20.5" text-anchor="middle" fill="#333">3</text>
<line x1="2087.6" y1="2130.6" x2="2087.6" y2="2144.2" stroke="#333" stroke-width="2"/>
<text x="2087.6" y="2167.1" font-size="20.5" text-anchor="middle" fill="#333">4</text>
<line x1="2138.5" y1="2130.6" x2="2138.5" y2="2144.2" stroke="#333" stroke-width="2"/>
<text x="2138.5" y="2167.1" font-size="20.5" text-anchor="middle" fill="#333">5</text>
<text x="1942.2" y="2196.0" font-size="22" textLength="155.8" lengthAdjust="spacing" fill="#333">log10 frequency</text>
<path d="M2433.8 62.1L2446.6 62.1M2433.8 101.2L2446.6 101.2M2446.6 62.1L2446.6 101.2M2433.8 257.5L2435.0 257.5M2433.8 296.6L2435.0 296.6M2435.0 257.5L2435.0 296.6M2433.8 218.5L2437.0 218.5M2435.0 277.1L2437.0 277.1M2437.0 218.5L2437.0 277.1M2433.8 179.4L2441.0 179.4M2437.0 247.8L2441.0 247.8M2441.0 179.4L2441.0 247.8M2433.8 140.3L2442.2 140.3M2441.0 213.6L2442.2 213.6M2442.2 140.3L2442.2 213.6M2433.8 335.7L2438.3 335.7M2433.8 374.8L2438.3 374.8M2438.3 335.7L2438.3 374.8M2433.8 413.9L2436.5 413.9M2433.8 453.0L2436.5 453.0M2436.5 413.9L2436.5 453.0M2438.3 355.3L2441.6 355.3M2436.5 433.5L2441.6 433.5M2441.6 355.3L2441.6 433.5M2441.6 394.4L2443.5 394.4M2433.8 492.1L2443.5 492.1M2443.5 394.4L2443.5 492.1M2433.8 609.4L2435.2 609.4M2433.8 648.4L2435.2 648.4M2435.2 609.4L2435.2 648.4M2433.8 570.3L2437.5 570.3M2435.2 628.9L2437.5 628.9M2437.5 570.3L2437.5 628.9M2433.8 531.2L2440.5 531.2M2437.5 599.6L2440.5 599.6M2440.5 531.2L2440.5 599.6M2443.5 443.2L2445.0 443.2M2440.5 565.4L2445.0 565.4M2445.0 443.2L2445.0 565.4M2442.2 176.9L2446.6 176.9M2445.0 504.3L2446.6 504.3M2446.6 176.9L2446.6 504.3M2433.8 687.5L2436.6 687.5M2433.8 726.6L2436.6 726.6M2436.6 687.5L2436.6 726.6M2433.8 765.7L2436.6 765.7M2433.8 804.8L2436.6 804.8M2436.6 765.7L2436.6 804.8M2433.8 883.0L2435.5 883.0M2433.8 922.1L2435.5 922.1M2435.5 883.0L2435.5 922.1M2433.8 843.9L2438.3 843.9M2435.5 902.5L2438.3 902.5M2438.3 843.9L2438.3 902.5M2433.8 961.2L2436.0 961.2M2433.8 1000.3L2436.0 1000.3M2436.0 961.2L2436.0 1000.3M2438.3 873.2L2441.5 873.2M2436.0 980.7L2441.5 980.7M2441.5 873.2L2441.5 980.7M2436.6 785.3L2445.0 785.3M2441.5 927.0L2445.0 927.0M2445.0 785.3L2445.0 927.0M2436.6 707.1L2448.5 707.1M2445.0 856.1L2448.5 856.1M2448.5 707.1L2448.5 856.1M2446.6 340.6L2454.0 340.6M2448.5 781.6L2454.0 781.6M2454.0 340.6L2454.0 781.6M2433.8 1039.3L2447.1 1039.3M2433.8 1078.4L2447.1 1078.4M2447.1 1039.3L2447.1 1078.4M2433.8 1156.6L2448.5 1156.6M2433.8 1195.7L2448.5 1195.7M2448.5 1156.6L2448.5 1195.7M2433.8 1117.5L2450.5 1117.5M2448.5 1176.2L2450.5 1176.2M2450.5 1117.5L2450.5 1176.2M2447.1 1058.9L2456.8 1058.9M2450.5 1146.8L2456.8 1146.8M2456.8 1058.9L2456.8 1146.8M2433.8 1313.0L2440.2 1313.0M2433.8 1352.1L2440.2 1352.1M2440.2 1313.0L2440.2 1352.1M2433.8 1391.2L2437.0 1391.2M2433.8 1430.2L2437.0 1430.2M2437.0 1391.2L2437.0 1430.2M2440.2 1332.5L2442.5 1332.5M2437.0 1410.7L2442.5 1410.7M2442.5 1332.5L2442.5 1410.7M2433.8 1469.3L2443.0 1469.3M2433.8 1508.4L2443.0 1508.4M2443.0 1469.3L2443.0 1508.4M2433.8 1664.8L2434.9 1664.8M2433.8 1703.9L2434.9 1703.9M2434.9 1664.8L2434.9 1703.9M2433.8 1625.7L2436.0 1625.7M2434.9 1684.3L2436.0 1684.3M2436.0 1625.7L2436.0 1684.3M2433.8 1586.6L2437.2 1586.6M2436.0 1655.0L2437.2 1655.0M2437.2 1586.6L2437.2 1655.0M2433.8 1547.5L2438.5 1547.5M2437.2 1620.8L2438.5 1620.8M2438.5 1547.5L2438.5 1620.8M2443.0 1488.9L2444.4 1488.9M2438.5 1584.2L2444.4 1584.2M2444.4 1488.9L2444.4 1584.2M2442.5 1371.6L2445.5 1371.6M2444.4 1536.5L2445.5 1536.5M2445.5 1371.6L2445.5 1536.5M2433.8 1273.9L2450.5 1273.9M2445.5 1454.1L2450.5 1454.1M2450.5 1273.9L2450.5 1454.1M2433.8 1234.8L2459.6 1234.8M2450.5 1364.0L2459.6 1364.0M2459.6 1234.8L2459.6 1364.0M2456.8 1102.9L2461.2 1102.9M2459.6 1299.4L2461.2 1299.4M2461.2 1102.9L2461.2 1299.4M2454.0 561.1L2463.2 561.1M2461.2 1201.1L2463.2 1201.1M2463.2 561.1L2463.2 1201.1M2446.6 81.6L2475.4 81.6M2463.2 881.1L2475.4 881.1M2475.4 81.6L2475.4 881.1M2433.8 1821.1L2456.0 1821.1M2433.8 1860.2L2456.0 1860.2M2456.0 1821.1L2456.0 1860.2M2433.8 1782.1L2465.4 1782.1M2456.0 1840.7L2465.4 1840.7M2465.4 1782.1L2465.4 1840.7M2433.8 1743.0L2467.6 1743.0M2465.4 1811.4L2467.6 1811.4M2467.6 1743.0L2467.6 1811.4M2433.8 1938.4L2459.6 1938.4M2433.8 1977.5L2459.6 1977.5M2459.6 1938.4L2459.6 1977.5M2433.8 1899.3L2475.5 1899.3M2459.6 1958.0L2475.5 1958.0M2475.5 1899.3L2475.5 1958.0M2467.6 1777.2L2477.3 1777.2M2475.5 1928.6L2477.3 1928.6M2477.3 1777.2L2477.3 1928.6M2475.4 481.4L2485.8 481.4M2477.3 1852.9L2485.8 1852.9M2485.8 481.4L2485.8 1852.9" fill="none" stroke="#858585" stroke-width="1.4" stroke-linecap="square"/>
</svg>
</body></html>
